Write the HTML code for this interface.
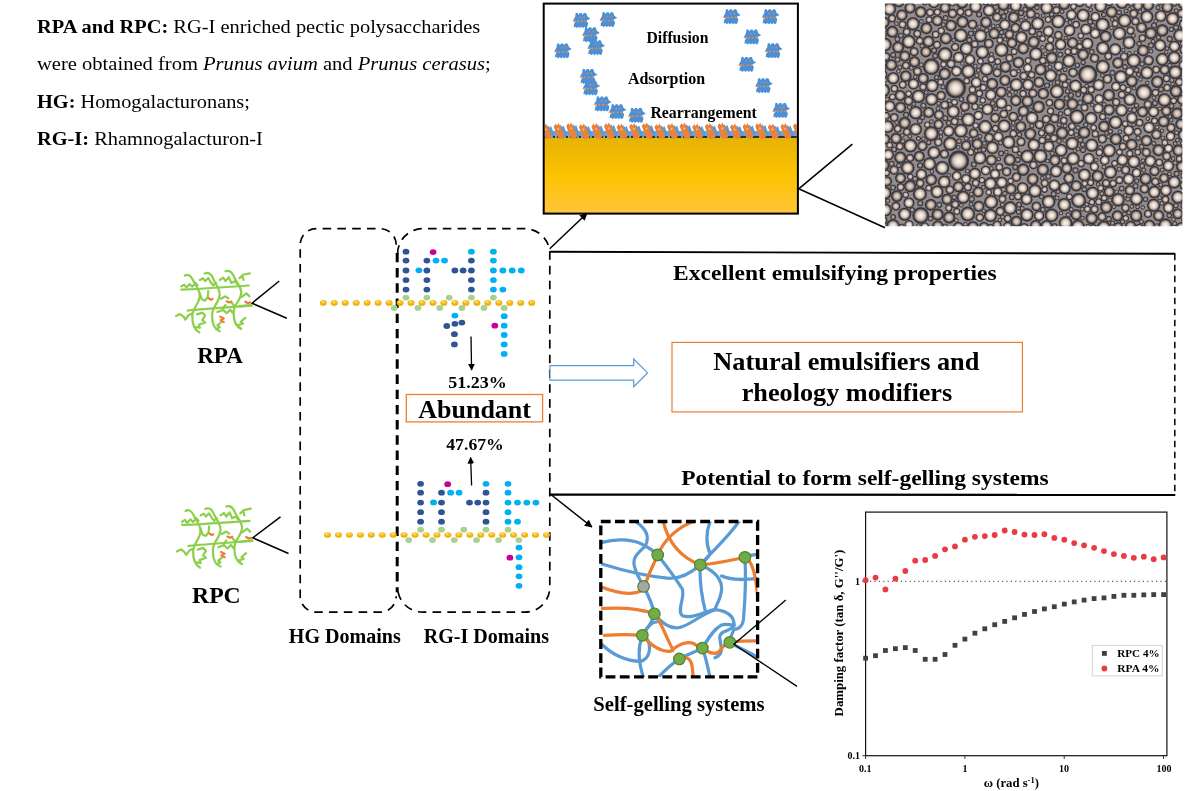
<!DOCTYPE html>
<html><head><meta charset="utf-8"><title>Graphical abstract</title>
<style>html,body{margin:0;padding:0;background:#fff}svg{display:block}</style></head>
<body>
<svg width="1203" height="791" viewBox="0 0 1203 791">
<rect width="1203" height="791" fill="#fff"/>

<defs>
<radialGradient id="bb" cx="0.5" cy="0.5" r="0.5">
<stop offset="0" stop-color="#faf6f1"/><stop offset="0.32" stop-color="#ebdfd4"/><stop offset="0.56" stop-color="#c6b3a5"/><stop offset="0.7" stop-color="#7b6f6c"/><stop offset="0.84" stop-color="#2e2f38"/><stop offset="1" stop-color="#4b4a52"/>
</radialGradient>
<radialGradient id="bs" cx="0.5" cy="0.5" r="0.5">
<stop offset="0" stop-color="#bdada0"/><stop offset="0.3" stop-color="#a8998e"/><stop offset="0.55" stop-color="#726867"/><stop offset="0.78" stop-color="#33333c"/><stop offset="1" stop-color="#54525a"/>
</radialGradient>
<radialGradient id="bm" cx="0.5" cy="0.5" r="0.5">
<stop offset="0" stop-color="#e9ddd1"/><stop offset="0.33" stop-color="#d3c2b4"/><stop offset="0.54" stop-color="#aa988d"/><stop offset="0.68" stop-color="#655c5d"/><stop offset="0.83" stop-color="#2e2f38"/><stop offset="1" stop-color="#4d4c54"/>
</radialGradient>
<linearGradient id="gold" x1="0" y1="0" x2="0" y2="1">
<stop offset="0" stop-color="#e4b304"/><stop offset="0.5" stop-color="#fdc300"/><stop offset="1" stop-color="#ffc53c"/>
</linearGradient>
<radialGradient id="gd" cx="0.5" cy="0.35" r="0.6">
<stop offset="0" stop-color="#ffcf3a"/><stop offset="1" stop-color="#eaa800"/>
</radialGradient>
<marker id="ah" viewBox="0 0 10 10" refX="9" refY="5" markerWidth="5.2" markerHeight="5.2" orient="auto-start-reverse"><path d="M0,0 L10,5 L0,10 z" fill="#000"/></marker>
<g id="mol">
<path d="M-6,-4 L-5.5,-8 L-3.5,-8 L-3,-6 L-1.5,-8 L0.5,-8 L1,-6 L2.5,-8 L4.5,-8 L6,-4 L8.7,-2 L5,0 L6.5,3 L5.5,7 L4,8 L3,6.5 L1.5,8 L0,6.5 L-1.5,8 L-3,6.5 L-4.5,8 L-6,6.5 L-7.5,7 L-7,3 L-5,1 L-8,0 z" fill="#4a90d9"/>
<path d="M-8.9,0.8 L-5.5,-0.4 L-5.5,2 z" fill="#e08a4c"/>
<circle cx="-3.4" cy="0.8" r="1.1" fill="#e08a4c"/><circle cx="0.4" cy="0.8" r="1.1" fill="#e08a4c"/><circle cx="4" cy="0.8" r="1.1" fill="#e08a4c"/>
<circle cx="-1" cy="-3.6" r="1" fill="#b98c74"/><circle cx="2.6" cy="-3.6" r="1" fill="#b98c74"/>
</g>
</defs>

<text x="37.00" y="33.4" textLength="443.20" lengthAdjust="spacingAndGlyphs" style="font-family:'Liberation Serif',serif;font-size:19.2px;" ><tspan font-weight="bold">RPA and RPC:</tspan> RG-I enriched pectic polysaccharides</text>
<text x="37.00" y="70.3" textLength="453.81" lengthAdjust="spacingAndGlyphs" style="font-family:'Liberation Serif',serif;font-size:19.2px;" >were obtained from <tspan font-style="italic">Prunus avium</tspan> and <tspan font-style="italic">Prunus cerasus</tspan>;</text>
<text x="37.00" y="107.7" textLength="212.91" lengthAdjust="spacingAndGlyphs" style="font-family:'Liberation Serif',serif;font-size:19.2px;" ><tspan font-weight="bold">HG:</tspan> Homogalacturonans;</text>
<text x="37.00" y="144.6" textLength="225.91" lengthAdjust="spacingAndGlyphs" style="font-family:'Liberation Serif',serif;font-size:19.2px;" ><tspan font-weight="bold">RG-I:</tspan> Rhamnogalacturon-I</text>
<rect x="543.7" y="137" width="254" height="76.5" fill="url(#gold)"/>
<use href="#mol" transform="translate(581.4,20.599999999999998) scale(1.04,0.94)"/>
<use href="#mol" transform="translate(608.3,19.7) scale(1.04,0.94)"/>
<use href="#mol" transform="translate(590.8,34.800000000000004) scale(1.04,0.94)"/>
<use href="#mol" transform="translate(596,47.7) scale(1.04,0.94)"/>
<use href="#mol" transform="translate(562.8,51.0) scale(1.04,0.94)"/>
<use href="#mol" transform="translate(588.4,76.60000000000001) scale(1.04,0.94)"/>
<use href="#mol" transform="translate(591.2,88.0) scale(1.04,0.94)"/>
<use href="#mol" transform="translate(602.6,104.10000000000001) scale(1.04,0.94)"/>
<use href="#mol" transform="translate(617.4,111.7) scale(1.04,0.94)"/>
<use href="#mol" transform="translate(636.8,115.5) scale(1.04,0.94)"/>
<use href="#mol" transform="translate(731.6,16.8) scale(1.04,0.94)"/>
<use href="#mol" transform="translate(770.5,16.8) scale(1.04,0.94)"/>
<use href="#mol" transform="translate(752.2,37.1) scale(1.04,0.94)"/>
<use href="#mol" transform="translate(773.5,50.800000000000004) scale(1.04,0.94)"/>
<use href="#mol" transform="translate(747.1,64.5) scale(1.04,0.94)"/>
<use href="#mol" transform="translate(763.8,85.7) scale(1.04,0.94)"/>
<use href="#mol" transform="translate(781.1,110.60000000000001) scale(1.04,0.94)"/>
<clipPath id="ic"><rect x="544.7" y="100" width="252.2" height="60"/></clipPath><g clip-path="url(#ic)">
<path d="M544,137.5 L544,131 L797,131 L797,137.5 z" fill="#6fa3d6"/>
<path d="M546.5,128.0 L548.0,125.2 L549.5,127.5 L551.0,126.0 L555.5,137.2 L550.5,137.6 z" fill="#5b9bd5"/>
<path d="M559.1,127.5 L560.6,124.7 L562.1,127.0 L563.6,125.5 L568.1,137.2 L563.1,137.6 z" fill="#5b9bd5"/>
<path d="M571.7,127.0 L573.2,124.2 L574.7,126.5 L576.2,125.0 L580.7,137.2 L575.7,137.6 z" fill="#5b9bd5"/>
<path d="M584.3,128.0 L585.8,125.2 L587.3,127.5 L588.8,126.0 L593.3,137.2 L588.3,137.6 z" fill="#5b9bd5"/>
<path d="M596.9,127.5 L598.4,124.7 L599.9,127.0 L601.4,125.5 L605.9,137.2 L600.9,137.6 z" fill="#5b9bd5"/>
<path d="M609.5,127.0 L611.0,124.2 L612.5,126.5 L614.0,125.0 L618.5,137.2 L613.5,137.6 z" fill="#5b9bd5"/>
<path d="M622.1,128.0 L623.6,125.2 L625.1,127.5 L626.6,126.0 L631.1,137.2 L626.1,137.6 z" fill="#5b9bd5"/>
<path d="M634.7,127.5 L636.2,124.7 L637.7,127.0 L639.2,125.5 L643.7,137.2 L638.7,137.6 z" fill="#5b9bd5"/>
<path d="M647.3,127.0 L648.8,124.2 L650.3,126.5 L651.8,125.0 L656.3,137.2 L651.3,137.6 z" fill="#5b9bd5"/>
<path d="M659.9,128.0 L661.4,125.2 L662.9,127.5 L664.4,126.0 L668.9,137.2 L663.9,137.6 z" fill="#5b9bd5"/>
<path d="M672.5,127.5 L674.0,124.7 L675.5,127.0 L677.0,125.5 L681.5,137.2 L676.5,137.6 z" fill="#5b9bd5"/>
<path d="M685.1,127.0 L686.6,124.2 L688.1,126.5 L689.6,125.0 L694.1,137.2 L689.1,137.6 z" fill="#5b9bd5"/>
<path d="M697.7,128.0 L699.2,125.2 L700.7,127.5 L702.2,126.0 L706.7,137.2 L701.7,137.6 z" fill="#5b9bd5"/>
<path d="M710.3,127.5 L711.8,124.7 L713.3,127.0 L714.8,125.5 L719.3,137.2 L714.3,137.6 z" fill="#5b9bd5"/>
<path d="M722.9,127.0 L724.4,124.2 L725.9,126.5 L727.4,125.0 L731.9,137.2 L726.9,137.6 z" fill="#5b9bd5"/>
<path d="M735.5,128.0 L737.0,125.2 L738.5,127.5 L740.0,126.0 L744.5,137.2 L739.5,137.6 z" fill="#5b9bd5"/>
<path d="M748.1,127.5 L749.6,124.7 L751.1,127.0 L752.6,125.5 L757.1,137.2 L752.1,137.6 z" fill="#5b9bd5"/>
<path d="M760.7,127.0 L762.2,124.2 L763.7,126.5 L765.2,125.0 L769.7,137.2 L764.7,137.6 z" fill="#5b9bd5"/>
<path d="M773.3,128.0 L774.8,125.2 L776.3,127.5 L777.8,126.0 L782.3,137.2 L777.3,137.6 z" fill="#5b9bd5"/>
<path d="M785.9,127.5 L787.4,124.7 L788.9,127.0 L790.4,125.5 L794.9,137.2 L789.9,137.6 z" fill="#5b9bd5"/>
<path d="M798.5,127.0 L800.0,124.2 L801.5,126.5 L803.0,125.0 L807.5,137.2 L802.5,137.6 z" fill="#5b9bd5"/>
<line x1="544" y1="136.9" x2="798" y2="136.9" stroke="#111" stroke-width="1.5" stroke-dasharray="7 2 2 2"/>
<path d="M541.0,127.0 L543.0,124.2 L544.5,126.0 L546.0,123.4 L548.0,127.5 L552.0,136 L550.5,138.6 L546.0,138.8 L543.5,133 z" fill="#e8823c"/>
<circle cx="545.7" cy="129.5" r="0.9" fill="#f3c9a8"/>
<path d="M553.6,126.5 L555.6,123.7 L557.1,125.5 L558.6,122.9 L560.6,127.0 L564.6,136 L563.1,138.6 L558.6,138.8 L556.1,133 z" fill="#e8823c"/>
<circle cx="558.3" cy="129.0" r="0.9" fill="#f3c9a8"/>
<path d="M566.2,126.0 L568.2,123.2 L569.7,125.0 L571.2,122.4 L573.2,126.5 L577.2,136 L575.7,138.6 L571.2,138.8 L568.7,133 z" fill="#e8823c"/>
<circle cx="570.9" cy="128.5" r="0.9" fill="#f3c9a8"/>
<path d="M578.8,127.0 L580.8,124.2 L582.3,126.0 L583.8,123.4 L585.8,127.5 L589.8,136 L588.3,138.6 L583.8,138.8 L581.3,133 z" fill="#e8823c"/>
<circle cx="583.5" cy="129.5" r="0.9" fill="#f3c9a8"/>
<path d="M591.4,126.5 L593.4,123.7 L594.9,125.5 L596.4,122.9 L598.4,127.0 L602.4,136 L600.9,138.6 L596.4,138.8 L593.9,133 z" fill="#e8823c"/>
<circle cx="596.1" cy="129.0" r="0.9" fill="#f3c9a8"/>
<path d="M604.0,126.0 L606.0,123.2 L607.5,125.0 L609.0,122.4 L611.0,126.5 L615.0,136 L613.5,138.6 L609.0,138.8 L606.5,133 z" fill="#e8823c"/>
<circle cx="608.7" cy="128.5" r="0.9" fill="#f3c9a8"/>
<path d="M616.6,127.0 L618.6,124.2 L620.1,126.0 L621.6,123.4 L623.6,127.5 L627.6,136 L626.1,138.6 L621.6,138.8 L619.1,133 z" fill="#e8823c"/>
<circle cx="621.3" cy="129.5" r="0.9" fill="#f3c9a8"/>
<path d="M629.2,126.5 L631.2,123.7 L632.7,125.5 L634.2,122.9 L636.2,127.0 L640.2,136 L638.7,138.6 L634.2,138.8 L631.7,133 z" fill="#e8823c"/>
<circle cx="633.9" cy="129.0" r="0.9" fill="#f3c9a8"/>
<path d="M641.8,126.0 L643.8,123.2 L645.3,125.0 L646.8,122.4 L648.8,126.5 L652.8,136 L651.3,138.6 L646.8,138.8 L644.3,133 z" fill="#e8823c"/>
<circle cx="646.5" cy="128.5" r="0.9" fill="#f3c9a8"/>
<path d="M654.4,127.0 L656.4,124.2 L657.9,126.0 L659.4,123.4 L661.4,127.5 L665.4,136 L663.9,138.6 L659.4,138.8 L656.9,133 z" fill="#e8823c"/>
<circle cx="659.1" cy="129.5" r="0.9" fill="#f3c9a8"/>
<path d="M667.0,126.5 L669.0,123.7 L670.5,125.5 L672.0,122.9 L674.0,127.0 L678.0,136 L676.5,138.6 L672.0,138.8 L669.5,133 z" fill="#e8823c"/>
<circle cx="671.7" cy="129.0" r="0.9" fill="#f3c9a8"/>
<path d="M679.6,126.0 L681.6,123.2 L683.1,125.0 L684.6,122.4 L686.6,126.5 L690.6,136 L689.1,138.6 L684.6,138.8 L682.1,133 z" fill="#e8823c"/>
<circle cx="684.3" cy="128.5" r="0.9" fill="#f3c9a8"/>
<path d="M692.2,127.0 L694.2,124.2 L695.7,126.0 L697.2,123.4 L699.2,127.5 L703.2,136 L701.7,138.6 L697.2,138.8 L694.7,133 z" fill="#e8823c"/>
<circle cx="696.9" cy="129.5" r="0.9" fill="#f3c9a8"/>
<path d="M704.8,126.5 L706.8,123.7 L708.3,125.5 L709.8,122.9 L711.8,127.0 L715.8,136 L714.3,138.6 L709.8,138.8 L707.3,133 z" fill="#e8823c"/>
<circle cx="709.5" cy="129.0" r="0.9" fill="#f3c9a8"/>
<path d="M717.4,126.0 L719.4,123.2 L720.9,125.0 L722.4,122.4 L724.4,126.5 L728.4,136 L726.9,138.6 L722.4,138.8 L719.9,133 z" fill="#e8823c"/>
<circle cx="722.1" cy="128.5" r="0.9" fill="#f3c9a8"/>
<path d="M730.0,127.0 L732.0,124.2 L733.5,126.0 L735.0,123.4 L737.0,127.5 L741.0,136 L739.5,138.6 L735.0,138.8 L732.5,133 z" fill="#e8823c"/>
<circle cx="734.7" cy="129.5" r="0.9" fill="#f3c9a8"/>
<path d="M742.6,126.5 L744.6,123.7 L746.1,125.5 L747.6,122.9 L749.6,127.0 L753.6,136 L752.1,138.6 L747.6,138.8 L745.1,133 z" fill="#e8823c"/>
<circle cx="747.3" cy="129.0" r="0.9" fill="#f3c9a8"/>
<path d="M755.2,126.0 L757.2,123.2 L758.7,125.0 L760.2,122.4 L762.2,126.5 L766.2,136 L764.7,138.6 L760.2,138.8 L757.7,133 z" fill="#e8823c"/>
<circle cx="759.9" cy="128.5" r="0.9" fill="#f3c9a8"/>
<path d="M767.8,127.0 L769.8,124.2 L771.3,126.0 L772.8,123.4 L774.8,127.5 L778.8,136 L777.3,138.6 L772.8,138.8 L770.3,133 z" fill="#e8823c"/>
<circle cx="772.5" cy="129.5" r="0.9" fill="#f3c9a8"/>
<path d="M780.4,126.5 L782.4,123.7 L783.9,125.5 L785.4,122.9 L787.4,127.0 L791.4,136 L789.9,138.6 L785.4,138.8 L782.9,133 z" fill="#e8823c"/>
<circle cx="785.1" cy="129.0" r="0.9" fill="#f3c9a8"/>
<path d="M793.0,126.0 L795.0,123.2 L796.5,125.0 L798.0,122.4 L800.0,126.5 L804.0,136 L802.5,138.6 L798.0,138.8 L795.5,133 z" fill="#e8823c"/>
<circle cx="797.7" cy="128.5" r="0.9" fill="#f3c9a8"/>
</g>
<rect x="543.7" y="3.6" width="254.2" height="210" fill="none" stroke="#000" stroke-width="2"/>
<text x="646.47" y="42.5" textLength="61.94" lengthAdjust="spacingAndGlyphs" style="font-family:'Liberation Serif',serif;font-size:16px;font-weight:bold;" >Diffusion</text>
<text x="627.88" y="83.5" textLength="77.23" lengthAdjust="spacingAndGlyphs" style="font-family:'Liberation Serif',serif;font-size:16px;font-weight:bold;" >Adsorption</text>
<text x="650.39" y="118.4" textLength="106.41" lengthAdjust="spacingAndGlyphs" style="font-family:'Liberation Serif',serif;font-size:16px;font-weight:bold;" >Rearrangement</text>
<path d="M852.4,144.2 L798.7,188.8 L885,227.7" fill="none" stroke="#000" stroke-width="1.5"/>
<line x1="549.7" y1="248.8" x2="587" y2="213.2" stroke="#000" stroke-width="1.5" marker-end="url(#ah)"/>
<clipPath id="mc"><rect x="884.9" y="3.6" width="297.5" height="222.6"/></clipPath>
<filter id="bl" x="0" y="0" width="1" height="1"><feGaussianBlur stdDeviation="0.55"/></filter><g clip-path="url(#mc)"><g filter="url(#bl)"><rect x="884.9" y="3.6" width="297.5" height="222.6" fill="#938e8d"/>
<circle cx="955.6" cy="88.0" r="10.6" fill="url(#bb)"/>
<circle cx="931.3" cy="66.8" r="8.5" fill="url(#bb)"/>
<circle cx="1087.7" cy="74.4" r="9.7" fill="url(#bb)"/>
<circle cx="1143.9" cy="92.6" r="8.5" fill="url(#bb)"/>
<circle cx="958.7" cy="160.9" r="10.6" fill="url(#bb)"/>
<circle cx="931.3" cy="133.6" r="7.6" fill="url(#bb)"/>
<circle cx="1077.0" cy="116.9" r="7.6" fill="url(#bb)"/>
<circle cx="1004.2" cy="126.0" r="6.7" fill="url(#bb)"/>
<circle cx="945.0" cy="54.6" r="7.6" fill="url(#bb)"/>
<circle cx="966.3" cy="48.6" r="6.7" fill="url(#bb)"/>
<circle cx="1146.9" cy="16.7" r="6.7" fill="url(#bb)"/>
<circle cx="1174.2" cy="57.7" r="6.7" fill="url(#bb)"/>
<circle cx="1083.1" cy="54.6" r="6.0" fill="url(#bm)"/>
<circle cx="1069.5" cy="30.4" r="6.0" fill="url(#bb)"/>
<circle cx="1078.6" cy="200.4" r="7.6" fill="url(#bb)"/>
<circle cx="1174.2" cy="182.1" r="6.7" fill="url(#bb)"/>
<circle cx="920.7" cy="215.5" r="8.5" fill="url(#bb)"/>
<circle cx="967.8" cy="214.0" r="7.6" fill="url(#bb)"/>
<circle cx="990.5" cy="215.5" r="6.7" fill="url(#bb)"/>
<circle cx="963.2" cy="197.3" r="6.7" fill="url(#bb)"/>
<circle cx="979.9" cy="157.9" r="6.7" fill="url(#bb)"/>
<circle cx="1054.3" cy="185.2" r="6.0" fill="url(#bb)"/>
<circle cx="1128.7" cy="179.1" r="6.0" fill="url(#bb)"/>
<circle cx="1049.7" cy="129.0" r="6.0" fill="url(#bm)"/>
<circle cx="1163.6" cy="121.4" r="6.0" fill="url(#bm)"/>
<circle cx="1128.7" cy="130.5" r="5.5" fill="url(#bb)"/>
<circle cx="987.5" cy="109.3" r="6.0" fill="url(#bb)"/>
<circle cx="972.3" cy="98.7" r="6.0" fill="url(#bm)"/>
<circle cx="920.7" cy="12.1" r="6.0" fill="url(#bm)"/>
<circle cx="945.0" cy="7.6" r="5.5" fill="url(#bm)"/>
<circle cx="980.5" cy="35.8" r="6.7" fill="url(#bb)"/>
<circle cx="904.7" cy="123.0" r="6.2" fill="url(#bm)"/>
<circle cx="1013.6" cy="17.4" r="5.8" fill="url(#bm)"/>
<circle cx="1010.9" cy="189.0" r="5.8" fill="url(#bm)"/>
<circle cx="950.2" cy="143.8" r="7.2" fill="url(#bb)"/>
<circle cx="1056.9" cy="91.5" r="7.2" fill="url(#bb)"/>
<circle cx="896.9" cy="196.1" r="6.1" fill="url(#bm)"/>
<circle cx="926.4" cy="28.3" r="6.1" fill="url(#bm)"/>
<circle cx="1129.0" cy="42.6" r="6.6" fill="url(#bb)"/>
<circle cx="1075.5" cy="86.0" r="6.5" fill="url(#bb)"/>
<circle cx="901.8" cy="15.1" r="5.9" fill="url(#bm)"/>
<circle cx="1088.0" cy="98.5" r="6.1" fill="url(#bm)"/>
<circle cx="1059.4" cy="104.3" r="6.1" fill="url(#bm)"/>
<circle cx="1122.4" cy="160.0" r="6.0" fill="url(#bb)"/>
<circle cx="1102.8" cy="66.8" r="7.2" fill="url(#bb)"/>
<circle cx="918.5" cy="96.3" r="6.9" fill="url(#bb)"/>
<circle cx="928.7" cy="112.4" r="5.7" fill="url(#bm)"/>
<circle cx="1084.4" cy="174.9" r="6.6" fill="url(#bb)"/>
<circle cx="1146.9" cy="72.7" r="6.8" fill="url(#bb)"/>
<circle cx="1062.1" cy="133.0" r="6.4" fill="url(#bm)"/>
<circle cx="1136.2" cy="215.7" r="6.4" fill="url(#bm)"/>
<circle cx="1083.1" cy="15.3" r="6.8" fill="url(#bb)"/>
<circle cx="1078.0" cy="226.6" r="7.0" fill="url(#bb)"/>
<circle cx="889.7" cy="106.2" r="5.9" fill="url(#bb)"/>
<circle cx="1048.6" cy="201.8" r="7.0" fill="url(#bb)"/>
<circle cx="991.1" cy="202.0" r="7.2" fill="url(#bb)"/>
<circle cx="928.4" cy="41.5" r="6.0" fill="url(#bm)"/>
<circle cx="953.3" cy="111.5" r="6.6" fill="url(#bb)"/>
<circle cx="962.1" cy="2.5" r="6.3" fill="url(#bm)"/>
<circle cx="1091.1" cy="118.4" r="6.6" fill="url(#bb)"/>
<circle cx="1118.1" cy="199.8" r="6.9" fill="url(#bb)"/>
<circle cx="1001.2" cy="92.0" r="5.8" fill="url(#bm)"/>
<circle cx="945.8" cy="38.4" r="6.2" fill="url(#bm)"/>
<circle cx="898.8" cy="1.7" r="5.9" fill="url(#bm)"/>
<circle cx="913.5" cy="84.0" r="5.7" fill="url(#bb)"/>
<circle cx="1146.5" cy="140.7" r="5.9" fill="url(#bm)"/>
<circle cx="919.9" cy="194.0" r="7.2" fill="url(#bb)"/>
<circle cx="1023.4" cy="111.2" r="5.8" fill="url(#bm)"/>
<circle cx="1046.7" cy="7.7" r="6.5" fill="url(#bb)"/>
<circle cx="1177.9" cy="197.2" r="6.8" fill="url(#bb)"/>
<circle cx="1115.6" cy="122.3" r="6.9" fill="url(#bb)"/>
<circle cx="982.3" cy="52.1" r="6.9" fill="url(#bb)"/>
<circle cx="1039.0" cy="82.2" r="5.7" fill="url(#bm)"/>
<circle cx="891.3" cy="64.9" r="6.0" fill="url(#bm)"/>
<circle cx="1091.7" cy="218.3" r="6.3" fill="url(#bm)"/>
<circle cx="1165.4" cy="225.5" r="7.2" fill="url(#bb)"/>
<circle cx="1154.3" cy="192.0" r="6.4" fill="url(#bb)"/>
<circle cx="1109.1" cy="109.9" r="5.9" fill="url(#bm)"/>
<circle cx="1120.8" cy="76.9" r="6.9" fill="url(#bb)"/>
<circle cx="1175.9" cy="91.3" r="6.3" fill="url(#bm)"/>
<circle cx="1168.4" cy="165.8" r="5.9" fill="url(#bb)"/>
<circle cx="1178.5" cy="150.5" r="6.2" fill="url(#bm)"/>
<circle cx="1048.3" cy="31.3" r="5.6" fill="url(#bb)"/>
<circle cx="1164.4" cy="99.9" r="7.0" fill="url(#bb)"/>
<circle cx="1157.3" cy="81.8" r="6.4" fill="url(#bm)"/>
<circle cx="1050.7" cy="75.5" r="6.5" fill="url(#bb)"/>
<circle cx="1051.8" cy="57.9" r="6.1" fill="url(#bm)"/>
<circle cx="1027.0" cy="214.9" r="6.8" fill="url(#bb)"/>
<circle cx="1051.6" cy="215.3" r="7.0" fill="url(#bb)"/>
<circle cx="904.8" cy="56.1" r="5.7" fill="url(#bm)"/>
<circle cx="929.5" cy="163.9" r="6.7" fill="url(#bb)"/>
<circle cx="949.1" cy="217.4" r="6.3" fill="url(#bm)"/>
<circle cx="931.6" cy="99.4" r="6.5" fill="url(#bb)"/>
<circle cx="1100.6" cy="6.0" r="6.5" fill="url(#bb)"/>
<circle cx="1015.7" cy="5.7" r="6.2" fill="url(#bb)"/>
<circle cx="914.5" cy="61.8" r="5.7" fill="url(#bm)"/>
<circle cx="1117.8" cy="62.9" r="5.8" fill="url(#bm)"/>
<circle cx="1010.2" cy="208.1" r="7.0" fill="url(#bb)"/>
<circle cx="960.9" cy="35.4" r="7.1" fill="url(#bb)"/>
<circle cx="1054.9" cy="160.3" r="5.8" fill="url(#bm)"/>
<circle cx="900.2" cy="157.5" r="6.3" fill="url(#bm)"/>
<circle cx="904.7" cy="214.2" r="6.7" fill="url(#bb)"/>
<circle cx="1124.6" cy="20.6" r="7.0" fill="url(#bb)"/>
<circle cx="985.2" cy="126.9" r="7.1" fill="url(#bb)"/>
<circle cx="898.1" cy="47.3" r="6.1" fill="url(#bm)"/>
<circle cx="974.9" cy="173.7" r="6.1" fill="url(#bb)"/>
<circle cx="1033.7" cy="41.9" r="6.2" fill="url(#bm)"/>
<circle cx="1103.9" cy="126.5" r="5.9" fill="url(#bm)"/>
<circle cx="1129.8" cy="99.5" r="6.4" fill="url(#bb)"/>
<circle cx="1133.8" cy="161.7" r="6.7" fill="url(#bb)"/>
<circle cx="1004.9" cy="80.4" r="5.7" fill="url(#bm)"/>
<circle cx="1136.5" cy="198.9" r="6.7" fill="url(#bb)"/>
<circle cx="1021.4" cy="37.3" r="6.3" fill="url(#bb)"/>
<circle cx="976.2" cy="82.4" r="5.6" fill="url(#bb)"/>
<circle cx="962.5" cy="21.9" r="6.3" fill="url(#bm)"/>
<circle cx="1109.2" cy="150.6" r="6.8" fill="url(#bb)"/>
<circle cx="1179.8" cy="35.5" r="6.8" fill="url(#bb)"/>
<circle cx="1035.0" cy="190.8" r="6.9" fill="url(#bb)"/>
<circle cx="1088.8" cy="158.7" r="6.0" fill="url(#bb)"/>
<circle cx="892.3" cy="31.8" r="6.2" fill="url(#bm)"/>
<circle cx="1072.2" cy="143.5" r="6.7" fill="url(#bb)"/>
<circle cx="1030.4" cy="2.4" r="6.9" fill="url(#bb)"/>
<circle cx="1102.8" cy="48.1" r="6.8" fill="url(#bb)"/>
<circle cx="1177.1" cy="113.5" r="6.2" fill="url(#bm)"/>
<circle cx="1027.3" cy="156.5" r="6.9" fill="url(#bb)"/>
<circle cx="1038.6" cy="106.9" r="6.4" fill="url(#bm)"/>
<circle cx="1177.8" cy="213.8" r="5.6" fill="url(#bm)"/>
<circle cx="1018.4" cy="62.5" r="6.0" fill="url(#bm)"/>
<circle cx="1150.3" cy="161.0" r="6.0" fill="url(#bb)"/>
<circle cx="1153.6" cy="111.8" r="5.7" fill="url(#bb)"/>
<circle cx="978.2" cy="192.0" r="5.6" fill="url(#bm)"/>
<circle cx="1109.2" cy="191.7" r="5.8" fill="url(#bm)"/>
<circle cx="1184.0" cy="135.1" r="6.2" fill="url(#bb)"/>
<circle cx="1162.3" cy="30.4" r="6.4" fill="url(#bm)"/>
<circle cx="986.5" cy="69.1" r="6.8" fill="url(#bb)"/>
<circle cx="986.0" cy="22.2" r="6.0" fill="url(#bm)"/>
<circle cx="960.8" cy="130.7" r="7.1" fill="url(#bb)"/>
<circle cx="1108.9" cy="95.1" r="6.3" fill="url(#bm)"/>
<circle cx="1143.1" cy="50.5" r="6.1" fill="url(#bm)"/>
<circle cx="889.5" cy="8.9" r="6.8" fill="url(#bb)"/>
<circle cx="883.0" cy="90.3" r="7.1" fill="url(#bb)"/>
<circle cx="1040.4" cy="156.2" r="7.2" fill="url(#bb)"/>
<circle cx="1020.8" cy="126.6" r="5.7" fill="url(#bm)"/>
<circle cx="1064.1" cy="4.0" r="6.1" fill="url(#bm)"/>
<circle cx="975.6" cy="6.5" r="6.4" fill="url(#bb)"/>
<circle cx="893.2" cy="78.2" r="6.3" fill="url(#bb)"/>
<circle cx="1175.3" cy="72.2" r="7.0" fill="url(#bb)"/>
<circle cx="1001.5" cy="49.9" r="7.2" fill="url(#bb)"/>
<circle cx="1103.8" cy="227.6" r="7.1" fill="url(#bb)"/>
<circle cx="933.9" cy="2.3" r="6.1" fill="url(#bb)"/>
<circle cx="1160.1" cy="45.3" r="6.2" fill="url(#bb)"/>
<circle cx="1068.9" cy="61.0" r="6.8" fill="url(#bb)"/>
<circle cx="1167.3" cy="7.1" r="6.0" fill="url(#bm)"/>
<circle cx="1115.9" cy="139.2" r="6.2" fill="url(#bm)"/>
<circle cx="1149.3" cy="225.4" r="6.0" fill="url(#bm)"/>
<circle cx="1008.6" cy="142.2" r="6.7" fill="url(#bb)"/>
<circle cx="1035.9" cy="54.0" r="6.9" fill="url(#bb)"/>
<circle cx="1117.4" cy="215.9" r="5.8" fill="url(#bm)"/>
<circle cx="994.1" cy="33.6" r="5.9" fill="url(#bm)"/>
<circle cx="1087.4" cy="43.6" r="6.1" fill="url(#bb)"/>
<circle cx="944.2" cy="181.8" r="6.5" fill="url(#bb)"/>
<circle cx="1048.8" cy="146.4" r="5.8" fill="url(#bb)"/>
<circle cx="968.3" cy="71.3" r="7.2" fill="url(#bb)"/>
<circle cx="887.4" cy="126.6" r="6.7" fill="url(#bb)"/>
<circle cx="968.3" cy="119.7" r="7.1" fill="url(#bb)"/>
<circle cx="915.7" cy="112.7" r="6.9" fill="url(#bb)"/>
<circle cx="1174.4" cy="46.3" r="5.8" fill="url(#bb)"/>
<circle cx="931.2" cy="179.7" r="6.0" fill="url(#bm)"/>
<circle cx="1025.6" cy="25.9" r="5.8" fill="url(#bb)"/>
<circle cx="907.7" cy="167.8" r="6.9" fill="url(#bb)"/>
<circle cx="930.8" cy="204.8" r="6.1" fill="url(#bm)"/>
<circle cx="1001.8" cy="182.4" r="6.0" fill="url(#bb)"/>
<circle cx="1145.6" cy="178.8" r="6.3" fill="url(#bm)"/>
<circle cx="1043.2" cy="93.6" r="6.0" fill="url(#bm)"/>
<circle cx="900.5" cy="178.1" r="5.6" fill="url(#bm)"/>
<circle cx="1076.3" cy="185.9" r="5.9" fill="url(#bm)"/>
<circle cx="884.8" cy="192.9" r="6.8" fill="url(#bb)"/>
<circle cx="1023.2" cy="169.7" r="6.4" fill="url(#bm)"/>
<circle cx="951.0" cy="25.5" r="6.0" fill="url(#bm)"/>
<circle cx="1092.5" cy="193.2" r="6.8" fill="url(#bb)"/>
<circle cx="1148.2" cy="5.1" r="6.0" fill="url(#bm)"/>
<circle cx="1073.1" cy="158.6" r="6.7" fill="url(#bb)"/>
<circle cx="1091.7" cy="145.2" r="6.8" fill="url(#bb)"/>
<circle cx="1158.6" cy="215.6" r="5.8" fill="url(#bm)"/>
<circle cx="1131.7" cy="144.7" r="6.1" fill="url(#bm)"/>
<circle cx="913.0" cy="23.8" r="6.9" fill="url(#bb)"/>
<circle cx="944.7" cy="73.9" r="6.3" fill="url(#bm)"/>
<circle cx="1098.7" cy="85.0" r="6.1" fill="url(#bb)"/>
<circle cx="1133.7" cy="60.6" r="7.2" fill="url(#bb)"/>
<circle cx="908.9" cy="202.9" r="5.7" fill="url(#bb)"/>
<circle cx="1110.4" cy="172.2" r="6.7" fill="url(#bb)"/>
<circle cx="1102.6" cy="24.7" r="7.2" fill="url(#bb)"/>
<circle cx="1033.8" cy="144.9" r="6.4" fill="url(#bb)"/>
<circle cx="1106.3" cy="207.4" r="6.3" fill="url(#bm)"/>
<circle cx="1056.0" cy="171.3" r="6.3" fill="url(#bb)"/>
<circle cx="977.3" cy="144.0" r="5.8" fill="url(#bm)"/>
<circle cx="1003.4" cy="4.6" r="6.3" fill="url(#bm)"/>
<circle cx="1009.7" cy="159.8" r="6.2" fill="url(#bm)"/>
<circle cx="883.7" cy="165.2" r="6.1" fill="url(#bm)"/>
<circle cx="1119.3" cy="33.4" r="7.0" fill="url(#bb)"/>
<circle cx="1042.9" cy="169.7" r="6.3" fill="url(#bm)"/>
<circle cx="1149.0" cy="127.4" r="6.0" fill="url(#bb)"/>
<circle cx="900.5" cy="107.4" r="5.8" fill="url(#bm)"/>
<circle cx="1172.5" cy="18.7" r="6.7" fill="url(#bb)"/>
<circle cx="1115.2" cy="49.4" r="6.3" fill="url(#bb)"/>
<circle cx="884.8" cy="44.6" r="7.1" fill="url(#bb)"/>
<circle cx="1158.5" cy="150.2" r="6.2" fill="url(#bm)"/>
<circle cx="1142.5" cy="111.8" r="5.7" fill="url(#bm)"/>
<circle cx="992.4" cy="147.7" r="6.6" fill="url(#bb)"/>
<circle cx="1065.6" cy="223.1" r="7.0" fill="url(#bb)"/>
<circle cx="1064.3" cy="204.7" r="6.9" fill="url(#bb)"/>
<circle cx="1023.2" cy="48.4" r="6.0" fill="url(#bm)"/>
<circle cx="1060.6" cy="44.5" r="5.9" fill="url(#bb)"/>
<circle cx="893.0" cy="226.0" r="7.0" fill="url(#bb)"/>
<circle cx="937.4" cy="20.6" r="5.7" fill="url(#bm)"/>
<circle cx="1168.5" cy="207.8" r="5.7" fill="url(#bb)"/>
<circle cx="1001.4" cy="103.2" r="5.9" fill="url(#bb)"/>
<circle cx="1150.8" cy="33.3" r="6.3" fill="url(#bm)"/>
<circle cx="1072.4" cy="104.1" r="6.2" fill="url(#bm)"/>
<circle cx="925.9" cy="51.8" r="5.7" fill="url(#bm)"/>
<circle cx="978.8" cy="206.3" r="5.8" fill="url(#bm)"/>
<circle cx="948.7" cy="131.1" r="5.8" fill="url(#bb)"/>
<circle cx="1026.6" cy="199.2" r="6.0" fill="url(#bb)"/>
<circle cx="932.2" cy="85.7" r="6.6" fill="url(#bb)"/>
<circle cx="1032.1" cy="117.9" r="6.5" fill="url(#bb)"/>
<circle cx="958.4" cy="186.8" r="5.7" fill="url(#bm)"/>
<circle cx="1005.5" cy="66.9" r="6.0" fill="url(#bm)"/>
<circle cx="1105.6" cy="36.6" r="6.2" fill="url(#bm)"/>
<circle cx="1058.2" cy="21.5" r="7.1" fill="url(#bb)"/>
<circle cx="1131.9" cy="117.8" r="5.8" fill="url(#bb)"/>
<circle cx="1131.9" cy="81.2" r="6.0" fill="url(#bm)"/>
<circle cx="947.0" cy="199.3" r="5.8" fill="url(#bm)"/>
<circle cx="908.8" cy="41.7" r="7.0" fill="url(#bb)"/>
<circle cx="1072.5" cy="42.8" r="5.8" fill="url(#bm)"/>
<circle cx="937.1" cy="191.8" r="6.6" fill="url(#bb)"/>
<circle cx="921.4" cy="174.3" r="5.7" fill="url(#bb)"/>
<circle cx="990.8" cy="94.9" r="5.9" fill="url(#bb)"/>
<circle cx="933.9" cy="152.6" r="6.6" fill="url(#bb)"/>
<circle cx="885.4" cy="210.0" r="6.7" fill="url(#bb)"/>
<circle cx="958.7" cy="57.3" r="5.8" fill="url(#bb)"/>
<circle cx="1016.5" cy="221.4" r="5.8" fill="url(#bm)"/>
<circle cx="896.0" cy="138.4" r="5.8" fill="url(#bm)"/>
<circle cx="905.8" cy="76.2" r="6.0" fill="url(#bm)"/>
<circle cx="1028.1" cy="84.8" r="6.0" fill="url(#bb)"/>
<circle cx="942.2" cy="167.9" r="7.2" fill="url(#bb)"/>
<circle cx="900.2" cy="95.5" r="5.7" fill="url(#bm)"/>
<circle cx="910.0" cy="186.1" r="6.3" fill="url(#bm)"/>
<circle cx="910.0" cy="7.9" r="5.8" fill="url(#bm)"/>
<circle cx="937.7" cy="214.5" r="6.2" fill="url(#bm)"/>
<circle cx="972.9" cy="226.9" r="6.0" fill="url(#bm)"/>
<circle cx="1183.9" cy="2.8" r="6.6" fill="url(#bb)"/>
<circle cx="1162.2" cy="59.3" r="6.6" fill="url(#bb)"/>
<circle cx="990.4" cy="183.6" r="6.5" fill="url(#bb)"/>
<circle cx="910.4" cy="145.7" r="7.0" fill="url(#bb)"/>
<circle cx="1016.3" cy="84.8" r="6.8" fill="url(#bb)"/>
<circle cx="1030.3" cy="133.9" r="6.2" fill="url(#bm)"/>
<circle cx="1037.7" cy="23.6" r="6.7" fill="url(#bb)"/>
<circle cx="1121.6" cy="110.3" r="6.4" fill="url(#bb)"/>
<circle cx="1122.0" cy="2.6" r="6.4" fill="url(#bb)"/>
<circle cx="919.3" cy="156.4" r="5.7" fill="url(#bm)"/>
<circle cx="1035.7" cy="225.6" r="5.9" fill="url(#bm)"/>
<circle cx="923.2" cy="78.4" r="5.7" fill="url(#bm)"/>
<circle cx="1084.2" cy="132.5" r="6.3" fill="url(#bm)"/>
<circle cx="1153.7" cy="205.3" r="6.8" fill="url(#bb)"/>
<circle cx="1064.8" cy="188.4" r="6.1" fill="url(#bb)"/>
<circle cx="991.4" cy="160.1" r="5.7" fill="url(#bm)"/>
<circle cx="915.7" cy="129.3" r="6.4" fill="url(#bb)"/>
<circle cx="1061.1" cy="150.3" r="6.6" fill="url(#bb)"/>
<circle cx="888.2" cy="154.8" r="5.9" fill="url(#bb)"/>
<circle cx="1097.7" cy="176.2" r="6.2" fill="url(#bm)"/>
<circle cx="1107.4" cy="79.0" r="5.0" fill="url(#bm)"/>
<circle cx="1181.6" cy="166.6" r="5.8" fill="url(#bm)"/>
<circle cx="997.7" cy="191.9" r="4.9" fill="url(#bb)"/>
<circle cx="992.2" cy="83.9" r="6.1" fill="url(#bm)"/>
<circle cx="1099.2" cy="98.9" r="4.9" fill="url(#bb)"/>
<circle cx="1182.1" cy="99.8" r="5.3" fill="url(#bm)"/>
<circle cx="1027.5" cy="101.3" r="6.1" fill="url(#bm)"/>
<circle cx="1130.5" cy="226.1" r="5.7" fill="url(#bm)"/>
<circle cx="1156.4" cy="134.5" r="5.4" fill="url(#bm)"/>
<circle cx="1180.9" cy="124.2" r="5.8" fill="url(#bm)"/>
<circle cx="922.4" cy="145.9" r="5.3" fill="url(#bm)"/>
<circle cx="939.0" cy="114.9" r="5.2" fill="url(#bm)"/>
<circle cx="1022.6" cy="188.1" r="6.1" fill="url(#bb)"/>
<circle cx="1071.4" cy="14.8" r="5.5" fill="url(#bb)"/>
<circle cx="1046.6" cy="226.1" r="6.0" fill="url(#bb)"/>
<circle cx="884.0" cy="22.3" r="5.8" fill="url(#bm)"/>
<circle cx="1115.9" cy="86.5" r="4.9" fill="url(#bb)"/>
<circle cx="995.0" cy="174.1" r="5.2" fill="url(#bb)"/>
<circle cx="1013.3" cy="116.7" r="5.2" fill="url(#bm)"/>
<circle cx="1068.8" cy="178.3" r="5.6" fill="url(#bm)"/>
<circle cx="966.1" cy="145.6" r="5.4" fill="url(#bm)"/>
<circle cx="1118.2" cy="227.2" r="5.1" fill="url(#bm)"/>
<circle cx="1015.8" cy="100.6" r="5.8" fill="url(#bm)"/>
<circle cx="1063.0" cy="77.9" r="4.9" fill="url(#bm)"/>
<circle cx="1040.5" cy="69.6" r="6.1" fill="url(#bm)"/>
<circle cx="1054.6" cy="118.4" r="5.0" fill="url(#bm)"/>
<circle cx="1165.9" cy="190.4" r="6.0" fill="url(#bb)"/>
<circle cx="1004.8" cy="24.8" r="5.8" fill="url(#bb)"/>
<circle cx="1111.6" cy="12.0" r="6.0" fill="url(#bm)"/>
<circle cx="1144.4" cy="188.8" r="4.9" fill="url(#bm)"/>
<circle cx="1085.9" cy="29.2" r="5.8" fill="url(#bb)"/>
<circle cx="997.0" cy="225.1" r="4.8" fill="url(#bm)"/>
<circle cx="1006.7" cy="171.7" r="4.8" fill="url(#bm)"/>
<circle cx="1102.3" cy="138.9" r="4.8" fill="url(#bm)"/>
<circle cx="1141.6" cy="27.5" r="5.6" fill="url(#bm)"/>
<circle cx="966.0" cy="178.9" r="5.0" fill="url(#bb)"/>
<circle cx="972.5" cy="24.4" r="5.0" fill="url(#bm)"/>
<circle cx="909.1" cy="224.8" r="4.8" fill="url(#bb)"/>
<circle cx="1154.5" cy="171.0" r="5.3" fill="url(#bm)"/>
<circle cx="1098.3" cy="108.4" r="5.4" fill="url(#bb)"/>
<circle cx="1104.7" cy="160.3" r="5.0" fill="url(#bb)"/>
<circle cx="1073.0" cy="72.5" r="5.1" fill="url(#bm)"/>
<circle cx="996.9" cy="17.2" r="4.8" fill="url(#bm)"/>
<circle cx="1129.8" cy="190.3" r="5.3" fill="url(#bm)"/>
<circle cx="1181.3" cy="228.0" r="5.9" fill="url(#bb)"/>
<circle cx="1170.5" cy="136.3" r="4.8" fill="url(#bb)"/>
<circle cx="884.7" cy="139.1" r="5.6" fill="url(#bm)"/>
<circle cx="969.9" cy="59.6" r="5.5" fill="url(#bb)"/>
<circle cx="988.9" cy="10.5" r="6.2" fill="url(#bb)"/>
<circle cx="995.1" cy="117.8" r="5.1" fill="url(#bm)"/>
<circle cx="1049.5" cy="47.0" r="4.8" fill="url(#bm)"/>
<circle cx="937.8" cy="226.0" r="5.8" fill="url(#bm)"/>
<circle cx="984.0" cy="226.9" r="5.2" fill="url(#bm)"/>
<circle cx="1160.7" cy="16.0" r="6.1" fill="url(#bb)"/>
<circle cx="1076.2" cy="214.8" r="5.7" fill="url(#bm)"/>
<circle cx="1183.3" cy="65.1" r="4.8" fill="url(#bb)"/>
<circle cx="938.6" cy="124.4" r="5.2" fill="url(#bm)"/>
<circle cx="1012.0" cy="43.0" r="5.4" fill="url(#bm)"/>
<circle cx="1095.3" cy="16.7" r="4.9" fill="url(#bb)"/>
<circle cx="956.5" cy="71.2" r="5.5" fill="url(#bb)"/>
<circle cx="952.5" cy="13.5" r="4.9" fill="url(#bm)"/>
<circle cx="1039.1" cy="215.7" r="5.3" fill="url(#bb)"/>
<circle cx="988.8" cy="43.6" r="5.1" fill="url(#bm)"/>
<circle cx="1066.8" cy="168.3" r="5.7" fill="url(#bm)"/>
<circle cx="1146.3" cy="152.3" r="4.8" fill="url(#bm)"/>
<circle cx="1164.0" cy="178.1" r="5.0" fill="url(#bm)"/>
<circle cx="1095.1" cy="33.5" r="5.4" fill="url(#bb)"/>
<circle cx="1136.5" cy="172.8" r="4.9" fill="url(#bb)"/>
<circle cx="941.1" cy="95.7" r="5.0" fill="url(#bm)"/>
<circle cx="989.1" cy="137.8" r="5.1" fill="url(#bm)"/>
<circle cx="1138.0" cy="5.7" r="5.1" fill="url(#bm)"/>
<circle cx="956.7" cy="176.0" r="5.0" fill="url(#bb)"/>
<circle cx="964.9" cy="106.6" r="5.1" fill="url(#bm)"/>
<circle cx="1184.3" cy="24.2" r="5.6" fill="url(#bb)"/>
<circle cx="985.6" cy="170.5" r="5.0" fill="url(#bb)"/>
<circle cx="1036.4" cy="206.4" r="5.0" fill="url(#bm)"/>
<circle cx="1166.3" cy="111.0" r="5.2" fill="url(#bm)"/>
<circle cx="1015.4" cy="27.9" r="5.1" fill="url(#bm)"/>
<circle cx="958.4" cy="227.6" r="5.8" fill="url(#bb)"/>
<circle cx="998.4" cy="136.7" r="5.3" fill="url(#bb)"/>
<circle cx="1030.8" cy="13.8" r="5.0" fill="url(#bm)"/>
<circle cx="1164.6" cy="69.7" r="5.2" fill="url(#bm)"/>
<circle cx="1079.7" cy="1.9" r="5.5" fill="url(#bm)"/>
<circle cx="973.7" cy="133.3" r="5.0" fill="url(#bm)"/>
<circle cx="1148.6" cy="60.4" r="5.4" fill="url(#bm)"/>
<circle cx="908.6" cy="100.8" r="4.9" fill="url(#bm)"/>
<circle cx="1032.7" cy="179.1" r="6.1" fill="url(#bm)"/>
<circle cx="1125.6" cy="170.0" r="4.8" fill="url(#bm)"/>
<circle cx="886.9" cy="181.3" r="5.3" fill="url(#bm)"/>
<circle cx="1171.0" cy="127.7" r="4.8" fill="url(#bm)"/>
<circle cx="1000.2" cy="211.4" r="4.8" fill="url(#bm)"/>
<circle cx="894.1" cy="170.1" r="4.9" fill="url(#bm)"/>
<circle cx="978.4" cy="115.5" r="4.9" fill="url(#bb)"/>
<circle cx="1058.6" cy="66.1" r="5.0" fill="url(#bb)"/>
<circle cx="1042.2" cy="140.4" r="4.0" fill="url(#bm)"/>
<circle cx="951.0" cy="63.9" r="4.7" fill="url(#bm)"/>
<circle cx="1156.2" cy="69.6" r="4.1" fill="url(#bm)"/>
<circle cx="1147.8" cy="104.4" r="4.4" fill="url(#bm)"/>
<circle cx="1049.4" cy="102.8" r="4.0" fill="url(#bm)"/>
<circle cx="910.1" cy="157.9" r="4.1" fill="url(#bm)"/>
<circle cx="1023.7" cy="75.9" r="4.5" fill="url(#bm)"/>
<circle cx="1016.4" cy="177.1" r="4.9" fill="url(#bm)"/>
<circle cx="905.9" cy="65.5" r="4.1" fill="url(#bm)"/>
<circle cx="1137.6" cy="131.8" r="4.2" fill="url(#bm)"/>
<circle cx="991.3" cy="59.4" r="3.9" fill="url(#bm)"/>
<circle cx="1094.5" cy="209.2" r="4.3" fill="url(#bm)"/>
<circle cx="1168.5" cy="148.4" r="4.7" fill="url(#bb)"/>
<circle cx="1015.5" cy="149.5" r="4.0" fill="url(#bm)"/>
<circle cx="999.3" cy="167.1" r="4.1" fill="url(#bm)"/>
<circle cx="944.7" cy="105.0" r="4.6" fill="url(#bm)"/>
<circle cx="1184.2" cy="49.8" r="5.0" fill="url(#bm)"/>
<circle cx="1181.6" cy="13.5" r="4.8" fill="url(#bm)"/>
<circle cx="883.5" cy="74.5" r="4.1" fill="url(#bm)"/>
<circle cx="967.9" cy="187.1" r="4.3" fill="url(#bm)"/>
<circle cx="1002.4" cy="199.1" r="4.1" fill="url(#bm)"/>
<circle cx="1031.6" cy="74.9" r="3.9" fill="url(#bm)"/>
<circle cx="1125.4" cy="207.8" r="4.4" fill="url(#bm)"/>
<circle cx="917.4" cy="71.4" r="4.6" fill="url(#bm)"/>
<circle cx="1044.7" cy="183.1" r="4.2" fill="url(#bm)"/>
<circle cx="954.6" cy="121.5" r="4.1" fill="url(#bm)"/>
<circle cx="919.7" cy="40.8" r="4.0" fill="url(#bm)"/>
<circle cx="1033.4" cy="165.0" r="4.4" fill="url(#bm)"/>
<circle cx="894.2" cy="117.5" r="4.5" fill="url(#bm)"/>
<circle cx="1071.9" cy="126.3" r="4.0" fill="url(#bm)"/>
<circle cx="1109.4" cy="2.2" r="4.1" fill="url(#bm)"/>
<circle cx="949.9" cy="189.8" r="4.6" fill="url(#bm)"/>
<circle cx="906.7" cy="31.8" r="4.1" fill="url(#bm)"/>
<circle cx="1003.8" cy="114.0" r="4.6" fill="url(#bm)"/>
<circle cx="1021.0" cy="141.8" r="4.8" fill="url(#bm)"/>
<circle cx="1179.2" cy="82.0" r="4.4" fill="url(#bm)"/>
<circle cx="900.6" cy="187.1" r="4.1" fill="url(#bm)"/>
<circle cx="902.7" cy="84.7" r="4.2" fill="url(#bm)"/>
<circle cx="1063.8" cy="120.5" r="3.9" fill="url(#bm)"/>
<circle cx="1032.9" cy="93.3" r="4.7" fill="url(#bm)"/>
<circle cx="1067.6" cy="112.0" r="4.3" fill="url(#bm)"/>
<circle cx="1106.1" cy="183.1" r="4.3" fill="url(#bm)"/>
<circle cx="1142.3" cy="38.1" r="3.9" fill="url(#bm)"/>
<circle cx="1058.4" cy="35.2" r="4.5" fill="url(#bm)"/>
<circle cx="1133.7" cy="13.6" r="4.6" fill="url(#bm)"/>
<circle cx="1094.6" cy="58.2" r="4.8" fill="url(#bm)"/>
<circle cx="883.3" cy="220.4" r="4.4" fill="url(#bm)"/>
<circle cx="960.4" cy="11.9" r="4.1" fill="url(#bm)"/>
<circle cx="895.9" cy="206.2" r="4.6" fill="url(#bm)"/>
<circle cx="1084.5" cy="107.6" r="4.1" fill="url(#bm)"/>
<circle cx="1121.8" cy="94.7" r="4.2" fill="url(#bm)"/>
<circle cx="1099.4" cy="152.5" r="4.0" fill="url(#bm)"/>
<circle cx="1009.4" cy="58.0" r="4.2" fill="url(#bm)"/>
<circle cx="1139.4" cy="227.9" r="4.5" fill="url(#bm)"/>
<circle cx="897.7" cy="128.7" r="4.0" fill="url(#bm)"/>
<circle cx="975.7" cy="183.0" r="4.1" fill="url(#bm)"/>
<circle cx="1102.0" cy="216.8" r="4.7" fill="url(#bm)"/>
<circle cx="885.9" cy="56.6" r="4.6" fill="url(#bm)"/>
<circle cx="902.5" cy="24.5" r="4.1" fill="url(#bm)"/>
<circle cx="1027.7" cy="68.0" r="4.7" fill="url(#bb)"/>
<circle cx="997.1" cy="72.7" r="4.7" fill="url(#bm)"/>
<circle cx="1009.4" cy="34.4" r="4.8" fill="url(#bm)"/>
<circle cx="955.2" cy="204.4" r="4.3" fill="url(#bm)"/>
<circle cx="937.0" cy="44.8" r="4.2" fill="url(#bm)"/>
<circle cx="1122.8" cy="146.5" r="4.2" fill="url(#bm)"/>
<circle cx="1032.2" cy="31.4" r="4.0" fill="url(#bm)"/>
<circle cx="1108.3" cy="56.2" r="4.2" fill="url(#bm)"/>
<circle cx="1081.1" cy="163.5" r="3.9" fill="url(#bm)"/>
<circle cx="1056.4" cy="10.2" r="4.2" fill="url(#bm)"/>
<circle cx="917.3" cy="33.7" r="4.1" fill="url(#bm)"/>
<circle cx="924.9" cy="226.9" r="4.5" fill="url(#bb)"/>
<circle cx="1116.2" cy="102.1" r="4.4" fill="url(#bm)"/>
<circle cx="1129.6" cy="71.5" r="4.5" fill="url(#bb)"/>
<circle cx="1155.3" cy="181.7" r="4.4" fill="url(#bm)"/>
<circle cx="1013.7" cy="73.1" r="4.2" fill="url(#bm)"/>
<circle cx="906.9" cy="131.9" r="4.0" fill="url(#bm)"/>
<circle cx="1148.0" cy="213.8" r="4.3" fill="url(#bm)"/>
<circle cx="979.8" cy="217.5" r="4.4" fill="url(#bm)"/>
<circle cx="1167.1" cy="87.7" r="4.0" fill="url(#bm)"/>
<circle cx="1046.2" cy="119.2" r="4.5" fill="url(#bm)"/>
<circle cx="938.3" cy="142.3" r="4.4" fill="url(#bm)"/>
<circle cx="886.0" cy="115.8" r="4.0" fill="url(#bm)"/>
<circle cx="1139.6" cy="122.8" r="4.1" fill="url(#bm)"/>
<circle cx="1113.1" cy="183.4" r="3.9" fill="url(#bm)"/>
<circle cx="1124.0" cy="56.5" r="4.3" fill="url(#bm)"/>
<circle cx="1135.4" cy="21.3" r="4.3" fill="url(#bm)"/>
<circle cx="1018.0" cy="196.3" r="4.2" fill="url(#bm)"/>
<circle cx="914.1" cy="51.7" r="4.7" fill="url(#bm)"/>
<circle cx="894.4" cy="88.6" r="3.9" fill="url(#bm)"/>
<circle cx="1007.7" cy="218.4" r="4.0" fill="url(#bm)"/>
<circle cx="930.1" cy="12.5" r="4.2" fill="url(#bm)"/>
<circle cx="1130.5" cy="30.6" r="4.3" fill="url(#bm)"/>
<circle cx="1091.2" cy="89.7" r="3.9" fill="url(#bm)"/>
<circle cx="1076.1" cy="24.6" r="4.0" fill="url(#bm)"/>
<circle cx="1053.9" cy="138.3" r="4.2" fill="url(#bm)"/>
<circle cx="1165.4" cy="199.5" r="4.0" fill="url(#bm)"/>
<circle cx="892.0" cy="18.4" r="4.1" fill="url(#bm)"/>
<circle cx="1093.1" cy="228.1" r="4.1" fill="url(#bm)"/>
<circle cx="1039.5" cy="124.7" r="4.8" fill="url(#bm)"/>
<circle cx="1094.4" cy="166.7" r="4.7" fill="url(#bb)"/>
<circle cx="935.7" cy="34.5" r="4.0" fill="url(#bm)"/>
<circle cx="1013.3" cy="133.7" r="4.1" fill="url(#bm)"/>
<circle cx="920.2" cy="183.2" r="4.4" fill="url(#bm)"/>
<circle cx="974.8" cy="44.1" r="4.0" fill="url(#bm)"/>
<circle cx="983.3" cy="87.6" r="3.9" fill="url(#bm)"/>
<circle cx="955.1" cy="47.0" r="4.3" fill="url(#bm)"/>
<circle cx="1155.5" cy="92.7" r="4.0" fill="url(#bm)"/>
<circle cx="1184.0" cy="185.3" r="4.8" fill="url(#bm)"/>
<circle cx="1159.2" cy="162.5" r="4.1" fill="url(#bm)"/>
<circle cx="1166.7" cy="156.2" r="4.7" fill="url(#bm)"/>
<circle cx="944.4" cy="154.0" r="4.8" fill="url(#bm)"/>
<circle cx="1119.4" cy="180.2" r="4.1" fill="url(#bm)"/>
<circle cx="1007.6" cy="226.6" r="4.8" fill="url(#bb)"/>
<circle cx="1024.2" cy="228.1" r="5.0" fill="url(#bb)"/>
<circle cx="972.4" cy="89.7" r="3.9" fill="url(#bm)"/>
<circle cx="899.8" cy="146.4" r="4.1" fill="url(#bm)"/>
<circle cx="968.5" cy="12.8" r="4.1" fill="url(#bm)"/>
<circle cx="1142.2" cy="165.9" r="3.1" fill="url(#bs)"/>
<circle cx="924.8" cy="2.5" r="3.1" fill="url(#bs)"/>
<circle cx="1084.7" cy="183.5" r="3.4" fill="url(#bm)"/>
<circle cx="1041.6" cy="132.9" r="3.7" fill="url(#bm)"/>
<circle cx="1176.0" cy="27.5" r="3.2" fill="url(#bs)"/>
<circle cx="927.3" cy="124.7" r="3.3" fill="url(#bm)"/>
<circle cx="1048.1" cy="19.5" r="3.5" fill="url(#bm)"/>
<circle cx="1088.8" cy="4.2" r="3.7" fill="url(#bm)"/>
<circle cx="1070.9" cy="95.3" r="3.2" fill="url(#bs)"/>
<circle cx="1150.8" cy="45.5" r="3.3" fill="url(#bs)"/>
<circle cx="945.3" cy="118.3" r="3.2" fill="url(#bs)"/>
<circle cx="1130.9" cy="3.7" r="3.1" fill="url(#bs)"/>
<circle cx="1083.7" cy="90.0" r="3.9" fill="url(#bm)"/>
<circle cx="1080.7" cy="35.8" r="3.4" fill="url(#bm)"/>
<circle cx="1176.6" cy="173.7" r="3.2" fill="url(#bs)"/>
<circle cx="923.4" cy="105.5" r="3.3" fill="url(#bs)"/>
<circle cx="1042.6" cy="38.6" r="3.4" fill="url(#bm)"/>
<circle cx="893.2" cy="54.9" r="3.1" fill="url(#bs)"/>
<circle cx="1054.6" cy="226.2" r="3.2" fill="url(#bs)"/>
<circle cx="1128.3" cy="89.9" r="3.4" fill="url(#bm)"/>
<circle cx="1135.6" cy="186.0" r="3.1" fill="url(#bs)"/>
<circle cx="997.7" cy="61.6" r="3.5" fill="url(#bm)"/>
<circle cx="893.1" cy="217.0" r="3.1" fill="url(#bs)"/>
<circle cx="1095.3" cy="133.9" r="3.8" fill="url(#bm)"/>
<circle cx="995.4" cy="128.4" r="3.6" fill="url(#bm)"/>
<circle cx="1171.5" cy="106.0" r="3.1" fill="url(#bs)"/>
<circle cx="1126.1" cy="138.2" r="3.7" fill="url(#bm)"/>
<circle cx="1001.1" cy="153.4" r="3.1" fill="url(#bs)"/>
<circle cx="906.1" cy="114.8" r="3.2" fill="url(#bs)"/>
<circle cx="1141.5" cy="146.7" r="3.1" fill="url(#bs)"/>
<circle cx="985.7" cy="1.9" r="3.7" fill="url(#bm)"/>
<circle cx="1079.7" cy="46.7" r="3.4" fill="url(#bm)"/>
<circle cx="1050.7" cy="39.6" r="3.7" fill="url(#bm)"/>
<circle cx="1064.1" cy="160.6" r="3.7" fill="url(#bm)"/>
<circle cx="1087.4" cy="209.1" r="3.6" fill="url(#bm)"/>
<circle cx="1137.7" cy="152.2" r="3.4" fill="url(#bm)"/>
<circle cx="1015.2" cy="167.2" r="3.1" fill="url(#bs)"/>
<circle cx="975.0" cy="106.7" r="3.8" fill="url(#bm)"/>
<circle cx="1134.2" cy="110.2" r="3.1" fill="url(#bs)"/>
<circle cx="1173.7" cy="100.8" r="3.5" fill="url(#bm)"/>
<circle cx="1115.1" cy="23.6" r="3.6" fill="url(#bm)"/>
<circle cx="982.7" cy="100.4" r="3.3" fill="url(#bm)"/>
<circle cx="1125.2" cy="123.7" r="3.4" fill="url(#bm)"/>
<circle cx="1044.6" cy="189.5" r="3.4" fill="url(#bm)"/>
<circle cx="969.3" cy="40.1" r="3.3" fill="url(#bs)"/>
<circle cx="1100.7" cy="188.1" r="3.5" fill="url(#bm)"/>
<circle cx="1039.4" cy="33.9" r="3.3" fill="url(#bs)"/>
<circle cx="1053.6" cy="194.0" r="3.2" fill="url(#bs)"/>
<circle cx="1010.6" cy="181.0" r="3.3" fill="url(#bm)"/>
<circle cx="908.6" cy="93.7" r="3.4" fill="url(#bm)"/>
<circle cx="954.5" cy="102.2" r="3.5" fill="url(#bm)"/>
<circle cx="905.7" cy="194.7" r="3.3" fill="url(#bm)"/>
<circle cx="992.7" cy="103.3" r="3.1" fill="url(#bs)"/>
<circle cx="1112.4" cy="72.8" r="3.1" fill="url(#bs)"/>
<circle cx="979.1" cy="14.4" r="3.2" fill="url(#bs)"/>
<circle cx="948.7" cy="122.9" r="3.1" fill="url(#bs)"/>
<circle cx="1019.0" cy="204.6" r="3.2" fill="url(#bs)"/>
<circle cx="1125.8" cy="218.3" r="3.3" fill="url(#bm)"/>
<circle cx="1129.8" cy="153.6" r="3.7" fill="url(#bm)"/>
<circle cx="889.6" cy="145.1" r="3.4" fill="url(#bm)"/>
<circle cx="941.2" cy="30.8" r="3.8" fill="url(#bm)"/>
<circle cx="1174.4" cy="3.4" r="3.3" fill="url(#bs)"/>
<circle cx="1083.0" cy="150.1" r="3.1" fill="url(#bs)"/>
<circle cx="1060.3" cy="54.6" r="3.2" fill="url(#bs)"/>
<circle cx="952.3" cy="3.0" r="3.5" fill="url(#bm)"/>
<circle cx="883.0" cy="68.0" r="3.4" fill="url(#bm)"/>
<circle cx="994.2" cy="2.4" r="3.5" fill="url(#bm)"/>
<circle cx="1050.5" cy="111.1" r="3.8" fill="url(#bm)"/>
<circle cx="1074.1" cy="51.2" r="3.9" fill="url(#bm)"/>
<circle cx="1123.0" cy="87.6" r="3.6" fill="url(#bm)"/>
<circle cx="1069.4" cy="196.7" r="3.5" fill="url(#bm)"/>
<circle cx="1166.5" cy="78.5" r="3.9" fill="url(#bm)"/>
<circle cx="920.3" cy="203.2" r="3.2" fill="url(#bs)"/>
<circle cx="1114.6" cy="163.3" r="3.5" fill="url(#bm)"/>
<circle cx="1028.1" cy="60.6" r="3.5" fill="url(#bm)"/>
<circle cx="973.8" cy="164.4" r="3.2" fill="url(#bs)"/>
<circle cx="983.5" cy="149.7" r="3.1" fill="url(#bs)"/>
<circle cx="937.3" cy="12.1" r="3.8" fill="url(#bm)"/>
<circle cx="945.6" cy="18.0" r="3.1" fill="url(#bs)"/>
<circle cx="980.4" cy="61.3" r="3.4" fill="url(#bm)"/>
<circle cx="979.3" cy="93.5" r="3.9" fill="url(#bm)"/>
<circle cx="1102.6" cy="116.7" r="3.7" fill="url(#bm)"/>
<circle cx="920.1" cy="165.5" r="3.2" fill="url(#bs)"/>
<circle cx="1003.8" cy="16.5" r="3.2" fill="url(#bs)"/>
<circle cx="1055.1" cy="2.0" r="3.1" fill="url(#bs)"/>
<circle cx="1093.6" cy="127.7" r="3.5" fill="url(#bm)"/>
<circle cx="1161.0" cy="89.4" r="3.1" fill="url(#bs)"/>
<circle cx="897.4" cy="39.1" r="3.1" fill="url(#bs)"/>
<circle cx="1179.2" cy="158.8" r="3.4" fill="url(#bm)"/>
<circle cx="1119.4" cy="152.2" r="3.4" fill="url(#bm)"/>
<circle cx="934.1" cy="50.4" r="3.2" fill="url(#bs)"/>
<circle cx="939.2" cy="204.8" r="3.2" fill="url(#bs)"/>
<circle cx="1047.9" cy="137.2" r="3.1" fill="url(#bs)"/>
<circle cx="894.1" cy="149.4" r="3.2" fill="url(#bs)"/>
<circle cx="1121.7" cy="188.5" r="3.1" fill="url(#bs)"/>
<circle cx="923.0" cy="87.0" r="3.9" fill="url(#bm)"/>
<circle cx="1071.2" cy="132.6" r="3.5" fill="url(#bm)"/>
<circle cx="1073.5" cy="6.5" r="3.5" fill="url(#bm)"/>
<circle cx="985.1" cy="79.1" r="3.4" fill="url(#bm)"/>
<circle cx="910.3" cy="176.7" r="3.3" fill="url(#bm)"/>
<circle cx="981.9" cy="180.2" r="3.3" fill="url(#bm)"/>
<circle cx="940.6" cy="82.1" r="3.4" fill="url(#bm)"/>
<circle cx="975.6" cy="125.5" r="3.3" fill="url(#bm)"/>
<circle cx="1154.9" cy="103.2" r="3.2" fill="url(#bs)"/>
<circle cx="1154.5" cy="120.9" r="3.6" fill="url(#bm)"/>
<circle cx="970.9" cy="33.5" r="3.2" fill="url(#bs)"/>
<circle cx="1098.7" cy="201.8" r="3.7" fill="url(#bm)"/>
<circle cx="1008.7" cy="108.1" r="3.5" fill="url(#bm)"/>
<circle cx="1091.7" cy="51.8" r="3.1" fill="url(#bs)"/>
<circle cx="1067.8" cy="51.7" r="3.5" fill="url(#bm)"/>
<circle cx="1047.1" cy="85.5" r="3.1" fill="url(#bs)"/>
<circle cx="919.8" cy="121.1" r="3.1" fill="url(#bs)"/>
<circle cx="988.7" cy="192.3" r="3.3" fill="url(#bm)"/>
<circle cx="1048.3" cy="176.5" r="3.2" fill="url(#bs)"/>
<circle cx="1136.6" cy="70.0" r="3.1" fill="url(#bs)"/>
<circle cx="1184.0" cy="205.7" r="3.7" fill="url(#bm)"/>
<circle cx="892.4" cy="96.9" r="3.5" fill="url(#bm)"/>
<circle cx="1159.8" cy="2.0" r="3.1" fill="url(#bs)"/>
<circle cx="1066.6" cy="98.4" r="3.2" fill="url(#bs)"/>
<circle cx="943.5" cy="64.4" r="3.4" fill="url(#bm)"/>
<circle cx="1065.2" cy="84.9" r="3.5" fill="url(#bm)"/>
<circle cx="999.8" cy="40.2" r="3.5" fill="url(#bm)"/>
<circle cx="1090.2" cy="21.7" r="3.2" fill="url(#bs)"/>
<circle cx="1017.8" cy="159.7" r="3.2" fill="url(#bs)"/>
<circle cx="900.9" cy="35.5" r="3.1" fill="url(#bs)"/>
<circle cx="1021.1" cy="12.9" r="3.3" fill="url(#bs)"/>
<circle cx="928.7" cy="188.1" r="3.5" fill="url(#bm)"/>
<circle cx="1080.4" cy="140.0" r="3.3" fill="url(#bs)"/>
<circle cx="971.7" cy="199.1" r="3.3" fill="url(#bs)"/>
<circle cx="915.1" cy="178.8" r="3.1" fill="url(#bs)"/>
<circle cx="935.2" cy="55.9" r="3.2" fill="url(#bs)"/>
<circle cx="1154.1" cy="25.4" r="3.2" fill="url(#bs)"/>
<circle cx="1042.9" cy="209.7" r="3.1" fill="url(#bs)"/>
<circle cx="1090.6" cy="182.6" r="3.6" fill="url(#bm)"/>
<circle cx="1169.7" cy="38.9" r="3.3" fill="url(#bs)"/>
<circle cx="1023.1" cy="93.7" r="3.9" fill="url(#bm)"/>
<circle cx="1039.9" cy="2.2" r="3.4" fill="url(#bm)"/>
<circle cx="1075.5" cy="170.4" r="3.3" fill="url(#bs)"/>
<circle cx="956.8" cy="211.5" r="3.6" fill="url(#bm)"/>
<circle cx="966.7" cy="80.9" r="3.4" fill="url(#bm)"/>
<circle cx="948.8" cy="208.0" r="3.7" fill="url(#bm)"/>
<circle cx="1104.2" cy="198.0" r="3.4" fill="url(#bm)"/>
<circle cx="1108.7" cy="219.0" r="3.3" fill="url(#bs)"/>
<circle cx="970.8" cy="152.2" r="3.8" fill="url(#bm)"/>
<circle cx="1042.8" cy="60.6" r="3.9" fill="url(#bm)"/>
<circle cx="891.6" cy="163.7" r="3.2" fill="url(#bs)"/>
<circle cx="1164.9" cy="142.6" r="3.5" fill="url(#bm)"/>
<circle cx="929.1" cy="19.7" r="3.6" fill="url(#bm)"/>
<circle cx="1091.9" cy="202.2" r="3.3" fill="url(#bm)"/>
<circle cx="1184.3" cy="57.6" r="3.2" fill="url(#bs)"/>
<circle cx="1057.6" cy="82.4" r="3.1" fill="url(#bs)"/>
<circle cx="1011.9" cy="197.3" r="3.1" fill="url(#bs)"/>
<circle cx="1014.1" cy="51.6" r="3.6" fill="url(#bm)"/>
<circle cx="1183.8" cy="175.6" r="3.6" fill="url(#bm)"/>
<circle cx="1078.2" cy="94.3" r="3.1" fill="url(#bs)"/>
<circle cx="897.5" cy="59.6" r="3.2" fill="url(#bs)"/>
<circle cx="893.1" cy="187.6" r="3.1" fill="url(#bs)"/>
<circle cx="1025.2" cy="9.5" r="3.1" fill="url(#bs)"/>
<circle cx="1080.3" cy="102.6" r="3.2" fill="url(#bs)"/>
<circle cx="886.6" cy="172.9" r="3.4" fill="url(#bm)"/>
<circle cx="1158.0" cy="7.6" r="2.6" fill="url(#bs)"/>
<circle cx="1127.9" cy="199.1" r="2.7" fill="url(#bs)"/>
<circle cx="1065.0" cy="69.7" r="2.5" fill="url(#bs)"/>
<circle cx="936.6" cy="77.4" r="2.8" fill="url(#bs)"/>
<circle cx="1067.5" cy="91.2" r="3.0" fill="url(#bs)"/>
<circle cx="945.2" cy="226.1" r="2.7" fill="url(#bs)"/>
<circle cx="1182.0" cy="43.7" r="2.4" fill="url(#bs)"/>
<circle cx="966.2" cy="138.4" r="2.5" fill="url(#bs)"/>
<circle cx="965.2" cy="224.2" r="2.5" fill="url(#bs)"/>
<circle cx="1098.0" cy="184.4" r="2.3" fill="url(#bs)"/>
<circle cx="898.4" cy="71.3" r="2.4" fill="url(#bs)"/>
<circle cx="1171.3" cy="120.1" r="2.3" fill="url(#bs)"/>
<circle cx="1147.3" cy="82.9" r="2.3" fill="url(#bs)"/>
<circle cx="1018.6" cy="212.0" r="2.9" fill="url(#bs)"/>
<circle cx="931.3" cy="121.6" r="2.4" fill="url(#bs)"/>
<circle cx="1162.1" cy="170.0" r="2.5" fill="url(#bs)"/>
<circle cx="1009.6" cy="94.8" r="2.9" fill="url(#bs)"/>
<circle cx="1177.5" cy="140.1" r="2.5" fill="url(#bs)"/>
<circle cx="1160.8" cy="184.9" r="2.5" fill="url(#bs)"/>
<circle cx="1142.7" cy="207.4" r="2.3" fill="url(#bs)"/>
<circle cx="1031.8" cy="125.8" r="2.7" fill="url(#bs)"/>
<circle cx="1145.5" cy="199.2" r="2.8" fill="url(#bs)"/>
<circle cx="940.8" cy="132.3" r="2.9" fill="url(#bs)"/>
<circle cx="887.0" cy="99.3" r="2.8" fill="url(#bs)"/>
<circle cx="928.7" cy="142.4" r="2.8" fill="url(#bs)"/>
<circle cx="896.7" cy="122.5" r="2.4" fill="url(#bs)"/>
<circle cx="1129.5" cy="9.3" r="2.3" fill="url(#bs)"/>
<circle cx="1129.0" cy="212.7" r="2.5" fill="url(#bs)"/>
<circle cx="918.4" cy="138.5" r="2.6" fill="url(#bs)"/>
<circle cx="1173.5" cy="219.3" r="2.4" fill="url(#bs)"/>
<circle cx="940.9" cy="136.6" r="2.3" fill="url(#bs)"/>
<circle cx="1064.6" cy="140.5" r="2.3" fill="url(#bs)"/>
<circle cx="1030.5" cy="109.7" r="2.4" fill="url(#bs)"/>
<circle cx="1182.2" cy="143.1" r="2.4" fill="url(#bs)"/>
<circle cx="938.7" cy="103.4" r="2.5" fill="url(#bs)"/>
<circle cx="1001.6" cy="32.4" r="2.8" fill="url(#bs)"/>
<circle cx="1131.8" cy="206.5" r="2.4" fill="url(#bs)"/>
<circle cx="1135.9" cy="52.7" r="2.3" fill="url(#bs)"/>
<circle cx="932.0" cy="171.5" r="2.4" fill="url(#bs)"/>
<circle cx="1078.1" cy="127.6" r="2.7" fill="url(#bs)"/>
<circle cx="1166.3" cy="52.2" r="2.3" fill="url(#bs)"/>
<circle cx="1153.8" cy="143.4" r="2.6" fill="url(#bs)"/>
<circle cx="918.5" cy="225.6" r="2.4" fill="url(#bs)"/>
<circle cx="1143.7" cy="170.1" r="2.6" fill="url(#bs)"/>
<circle cx="883.2" cy="201.2" r="2.8" fill="url(#bs)"/>
<circle cx="991.4" cy="54.2" r="2.5" fill="url(#bs)"/>
<circle cx="1106.4" cy="133.1" r="2.4" fill="url(#bs)"/>
<circle cx="921.4" cy="21.4" r="2.4" fill="url(#bs)"/>
<circle cx="1142.1" cy="64.0" r="2.9" fill="url(#bs)"/>
<circle cx="884.6" cy="34.9" r="2.5" fill="url(#bs)"/>
<circle cx="942.9" cy="86.9" r="2.6" fill="url(#bs)"/>
<circle cx="1162.1" cy="130.7" r="2.3" fill="url(#bs)"/>
<circle cx="979.3" cy="26.8" r="2.3" fill="url(#bs)"/>
<circle cx="1139.1" cy="43.7" r="2.9" fill="url(#bs)"/>
<circle cx="1047.0" cy="64.6" r="2.4" fill="url(#bs)"/>
<circle cx="1083.1" cy="62.4" r="2.8" fill="url(#bs)"/>
<circle cx="1002.3" cy="204.7" r="2.6" fill="url(#bs)"/>
<circle cx="1013.2" cy="123.2" r="2.5" fill="url(#bs)"/>
<circle cx="1169.9" cy="116.6" r="2.4" fill="url(#bs)"/>
<circle cx="1114.0" cy="206.8" r="2.4" fill="url(#bs)"/>
<circle cx="1119.2" cy="12.4" r="2.8" fill="url(#bs)"/>
<circle cx="1161.9" cy="203.3" r="2.5" fill="url(#bs)"/>
<circle cx="943.4" cy="24.8" r="2.6" fill="url(#bs)"/>
<circle cx="1140.1" cy="11.9" r="2.4" fill="url(#bs)"/>
<circle cx="1059.0" cy="141.1" r="2.9" fill="url(#bs)"/>
<circle cx="1037.0" cy="7.6" r="2.7" fill="url(#bs)"/>
<circle cx="1175.9" cy="205.6" r="3.0" fill="url(#bs)"/>
<circle cx="883.0" cy="226.6" r="2.4" fill="url(#bs)"/>
<circle cx="902.3" cy="135.5" r="2.4" fill="url(#bs)"/>
<circle cx="1141.4" cy="221.6" r="2.6" fill="url(#bs)"/>
<circle cx="1124.9" cy="66.9" r="2.9" fill="url(#bs)"/>
<circle cx="1153.8" cy="97.7" r="2.4" fill="url(#bs)"/>
<circle cx="1134.1" cy="88.2" r="2.3" fill="url(#bs)"/>
<circle cx="909.9" cy="136.2" r="2.5" fill="url(#bs)"/>
<circle cx="887.8" cy="200.8" r="2.4" fill="url(#bs)"/>
<circle cx="901.9" cy="226.4" r="2.8" fill="url(#bs)"/>
<circle cx="898.8" cy="165.5" r="2.7" fill="url(#bs)"/>
<circle cx="1140.5" cy="79.4" r="2.4" fill="url(#bs)"/>
<circle cx="1013.0" cy="127.9" r="2.5" fill="url(#bs)"/>
<circle cx="1129.9" cy="109.7" r="2.4" fill="url(#bs)"/>
<circle cx="1005.2" cy="39.5" r="2.3" fill="url(#bs)"/>
<circle cx="1037.1" cy="15.5" r="2.7" fill="url(#bs)"/>
<circle cx="1111.5" cy="27.8" r="2.3" fill="url(#bs)"/>
<circle cx="980.7" cy="106.5" r="2.6" fill="url(#bs)"/>
<circle cx="1119.1" cy="169.1" r="2.7" fill="url(#bs)"/>
<circle cx="954.2" cy="197.4" r="2.8" fill="url(#bs)"/>
<circle cx="1182.2" cy="107.3" r="2.7" fill="url(#bs)"/>
<circle cx="1077.4" cy="65.2" r="2.9" fill="url(#bs)"/>
<circle cx="1060.6" cy="113.8" r="2.8" fill="url(#bs)"/>
<circle cx="1061.0" cy="213.1" r="2.4" fill="url(#bs)"/>
<circle cx="1085.7" cy="124.8" r="2.8" fill="url(#bs)"/>
<circle cx="1167.0" cy="48.4" r="2.3" fill="url(#bs)"/>
<circle cx="962.4" cy="63.5" r="2.3" fill="url(#bs)"/>
<circle cx="885.1" cy="80.1" r="2.7" fill="url(#bs)"/>
<circle cx="1103.8" cy="14.6" r="2.9" fill="url(#bs)"/>
<circle cx="1126.1" cy="10.9" r="2.5" fill="url(#bs)"/>
<circle cx="1157.1" cy="127.2" r="2.6" fill="url(#bs)"/>
<circle cx="1058.9" cy="72.8" r="2.8" fill="url(#bs)"/>
<circle cx="1079.5" cy="41.7" r="2.3" fill="url(#bs)"/>
<circle cx="1092.1" cy="105.1" r="2.4" fill="url(#bs)"/>
<circle cx="960.0" cy="117.9" r="2.4" fill="url(#bs)"/>
<circle cx="926.2" cy="92.5" r="2.5" fill="url(#bs)"/>
<circle cx="1138.5" cy="74.6" r="2.6" fill="url(#bs)"/>
<circle cx="1100.6" cy="147.5" r="2.4" fill="url(#bs)"/>
<circle cx="1000.5" cy="142.9" r="2.6" fill="url(#bs)"/>
<circle cx="902.9" cy="141.2" r="2.8" fill="url(#bs)"/>
<circle cx="1096.2" cy="160.0" r="2.4" fill="url(#bs)"/>
<circle cx="1120.0" cy="131.7" r="2.4" fill="url(#bs)"/>
<circle cx="1176.1" cy="10.8" r="2.5" fill="url(#bs)"/>
<circle cx="922.7" cy="117.5" r="2.6" fill="url(#bs)"/>
<circle cx="1051.0" cy="83.2" r="2.4" fill="url(#bs)"/>
<circle cx="949.2" cy="100.7" r="2.5" fill="url(#bs)"/>
<circle cx="997.8" cy="26.1" r="2.3" fill="url(#bs)"/>
<circle cx="1136.7" cy="181.0" r="2.7" fill="url(#bs)"/>
<circle cx="1004.8" cy="193.5" r="2.7" fill="url(#bs)"/>
<circle cx="1156.8" cy="225.6" r="2.4" fill="url(#bs)"/>
<circle cx="1065.1" cy="125.9" r="2.5" fill="url(#bs)"/>
<circle cx="1071.2" cy="209.4" r="2.6" fill="url(#bs)"/>
<circle cx="971.0" cy="204.3" r="2.5" fill="url(#bs)"/>
<circle cx="1133.6" cy="124.9" r="2.4" fill="url(#bs)"/>
<circle cx="1124.5" cy="214.0" r="2.4" fill="url(#bs)"/>
<circle cx="922.0" cy="46.0" r="2.6" fill="url(#bs)"/>
<circle cx="1088.0" cy="226.2" r="2.6" fill="url(#bs)"/>
<circle cx="1169.8" cy="65.4" r="2.7" fill="url(#bs)"/>
<circle cx="1005.9" cy="11.8" r="2.5" fill="url(#bs)"/>
<circle cx="1041.5" cy="196.8" r="2.7" fill="url(#bs)"/>
<circle cx="1082.1" cy="209.1" r="2.6" fill="url(#bs)"/>
<circle cx="993.1" cy="25.9" r="2.5" fill="url(#bs)"/>
<circle cx="1065.8" cy="38.1" r="2.3" fill="url(#bs)"/>
<circle cx="1162.8" cy="137.9" r="2.5" fill="url(#bs)"/>
<circle cx="1101.9" cy="193.6" r="2.6" fill="url(#bs)"/>
<circle cx="1171.4" cy="29.3" r="2.8" fill="url(#bs)"/>
<circle cx="1022.2" cy="208.3" r="2.5" fill="url(#bs)"/>
<circle cx="1050.0" cy="67.0" r="2.7" fill="url(#bs)"/>
<circle cx="1184.0" cy="159.2" r="2.6" fill="url(#bs)"/>
<circle cx="1123.4" cy="49.9" r="2.3" fill="url(#bs)"/>
<circle cx="997.5" cy="10.8" r="2.6" fill="url(#bs)"/>
<circle cx="1070.1" cy="22.5" r="2.5" fill="url(#bs)"/>
<circle cx="899.8" cy="67.2" r="2.7" fill="url(#bs)"/>
<circle cx="995.3" cy="66.4" r="2.4" fill="url(#bs)"/>
<circle cx="1110.3" cy="131.5" r="2.9" fill="url(#bs)"/>
<circle cx="998.7" cy="158.9" r="2.5" fill="url(#bs)"/>
<circle cx="1021.3" cy="20.3" r="2.4" fill="url(#bs)"/>
<circle cx="1082.5" cy="218.1" r="2.4" fill="url(#bs)"/>
<circle cx="1074.9" cy="150.8" r="2.3" fill="url(#bs)"/>
<circle cx="1183.2" cy="219.9" r="2.3" fill="url(#bs)"/>
<circle cx="921.2" cy="64.9" r="2.7" fill="url(#bs)"/>
<circle cx="1107.3" cy="119.8" r="2.3" fill="url(#bs)"/>
<circle cx="1173.2" cy="158.5" r="2.4" fill="url(#bs)"/>
<circle cx="953.7" cy="40.2" r="2.4" fill="url(#bs)"/>
<circle cx="961.3" cy="205.3" r="2.4" fill="url(#bs)"/>
<circle cx="913.9" cy="104.0" r="2.3" fill="url(#bs)"/>
<circle cx="1133.4" cy="35.6" r="2.5" fill="url(#bs)"/>
<circle cx="1042.4" cy="47.4" r="2.3" fill="url(#bs)"/>
<circle cx="984.4" cy="143.4" r="2.5" fill="url(#bs)"/>
<circle cx="958.3" cy="147.4" r="2.3" fill="url(#bs)"/>
<circle cx="1122.5" cy="221.8" r="2.7" fill="url(#bs)"/>
<circle cx="1129.4" cy="53.3" r="2.4" fill="url(#bs)"/>
<circle cx="883.4" cy="102.4" r="2.3" fill="url(#bs)"/>
<circle cx="1057.1" cy="198.0" r="2.6" fill="url(#bs)"/>
<circle cx="1068.3" cy="214.8" r="2.7" fill="url(#bs)"/>
<circle cx="1015.7" cy="92.7" r="2.3" fill="url(#bs)"/>
<circle cx="1019.5" cy="134.6" r="2.9" fill="url(#bs)"/>
<circle cx="1052.1" cy="153.3" r="2.7" fill="url(#bs)"/>
<circle cx="1002.5" cy="217.0" r="2.5" fill="url(#bs)"/>
<circle cx="1159.9" cy="108.7" r="2.5" fill="url(#bs)"/>
<circle cx="1172.6" cy="83.9" r="2.4" fill="url(#bs)"/>
<circle cx="938.0" cy="108.4" r="2.5" fill="url(#bs)"/>
<circle cx="912.2" cy="209.9" r="2.9" fill="url(#bs)"/>
<circle cx="1006.3" cy="152.1" r="2.4" fill="url(#bs)"/>
<circle cx="1058.0" cy="191.8" r="2.4" fill="url(#bs)"/>
<circle cx="1153.1" cy="41.3" r="2.5" fill="url(#bs)"/>
<circle cx="1125.2" cy="195.3" r="2.3" fill="url(#bs)"/>
<circle cx="1169.4" cy="173.9" r="2.5" fill="url(#bs)"/>
<circle cx="1018.7" cy="71.0" r="2.4" fill="url(#bs)"/>
<circle cx="1136.4" cy="105.5" r="2.8" fill="url(#bs)"/>
<circle cx="1003.5" cy="36.1" r="2.5" fill="url(#bs)"/>
<circle cx="1009.1" cy="89.1" r="2.8" fill="url(#bs)"/>
<circle cx="999.9" cy="219.9" r="2.3" fill="url(#bs)"/>
<circle cx="1043.1" cy="15.7" r="2.4" fill="url(#bs)"/>
<circle cx="1112.1" cy="19.5" r="2.3" fill="url(#bs)"/>
<circle cx="942.0" cy="1.7" r="2.4" fill="url(#bs)"/>
<circle cx="1155.6" cy="21.1" r="2.4" fill="url(#bs)"/>
<circle cx="976.9" cy="75.3" r="2.8" fill="url(#bs)"/>
<circle cx="1102.4" cy="75.3" r="2.4" fill="url(#bs)"/>
<circle cx="1147.8" cy="118.7" r="2.4" fill="url(#bs)"/>
<circle cx="1174.8" cy="223.6" r="2.6" fill="url(#bs)"/>
<circle cx="1142.9" cy="160.7" r="2.4" fill="url(#bs)"/>
<circle cx="1078.1" cy="149.0" r="2.4" fill="url(#bs)"/>
<circle cx="1104.1" cy="104.4" r="2.4" fill="url(#bs)"/>
<circle cx="1103.9" cy="166.9" r="2.5" fill="url(#bs)"/>
<circle cx="1066.9" cy="20.0" r="2.3" fill="url(#bs)"/>
<circle cx="1108.6" cy="136.7" r="2.4" fill="url(#bs)"/>
<circle cx="1009.8" cy="10.3" r="2.5" fill="url(#bs)"/>
<circle cx="930.5" cy="218.6" r="2.9" fill="url(#bs)"/>
<circle cx="1076.4" cy="134.9" r="2.7" fill="url(#bs)"/>
<circle cx="1150.9" cy="51.1" r="2.5" fill="url(#bs)"/>
<circle cx="1086.7" cy="86.1" r="2.4" fill="url(#bs)"/>
<circle cx="1109.8" cy="200.1" r="2.6" fill="url(#bs)"/>
<circle cx="1047.5" cy="161.1" r="2.5" fill="url(#bs)"/>
<circle cx="896.3" cy="23.7" r="2.4" fill="url(#bs)"/>
<circle cx="1158.4" cy="37.3" r="2.7" fill="url(#bs)"/>
<circle cx="915.2" cy="76.9" r="2.4" fill="url(#bs)"/>
<circle cx="1182.7" cy="77.6" r="2.4" fill="url(#bs)"/>
<circle cx="978.4" cy="70.2" r="2.6" fill="url(#bs)"/>
<circle cx="1020.1" cy="118.0" r="2.9" fill="url(#bs)"/>
<circle cx="1090.7" cy="9.8" r="2.4" fill="url(#bs)"/>
<circle cx="1138.1" cy="138.2" r="2.8" fill="url(#bs)"/>
<circle cx="1084.3" cy="189.4" r="2.9" fill="url(#bs)"/>
<circle cx="971.2" cy="194.1" r="2.6" fill="url(#bs)"/>
<circle cx="976.2" cy="150.9" r="2.4" fill="url(#bs)"/>
<circle cx="948.9" cy="175.3" r="2.3" fill="url(#bs)"/>
<circle cx="882.9" cy="2.0" r="3.0" fill="url(#bs)"/>
<circle cx="884.8" cy="30.2" r="2.4" fill="url(#bs)"/>
<circle cx="983.3" cy="187.3" r="2.5" fill="url(#bs)"/>
<circle cx="1055.0" cy="50.8" r="2.6" fill="url(#bs)"/>
<circle cx="974.9" cy="30.0" r="2.3" fill="url(#bs)"/>
<circle cx="1068.7" cy="81.2" r="2.6" fill="url(#bs)"/>
<circle cx="1019.4" cy="153.6" r="2.7" fill="url(#bs)"/>
<circle cx="1045.4" cy="53.8" r="2.4" fill="url(#bs)"/>
<circle cx="923.4" cy="138.6" r="2.3" fill="url(#bs)"/>
<circle cx="1042.2" cy="178.2" r="2.3" fill="url(#bs)"/>
<circle cx="1059.2" cy="124.7" r="2.6" fill="url(#bs)"/>
<circle cx="970.7" cy="139.2" r="2.6" fill="url(#bs)"/>
<circle cx="884.1" cy="62.9" r="2.7" fill="url(#bs)"/>
<circle cx="1093.0" cy="25.7" r="2.8" fill="url(#bs)"/>
<circle cx="995.8" cy="108.7" r="2.6" fill="url(#bs)"/>
<circle cx="1086.8" cy="204.3" r="2.5" fill="url(#bs)"/>
<circle cx="1051.6" cy="14.4" r="2.9" fill="url(#bs)"/>
<circle cx="1175.1" cy="143.6" r="2.5" fill="url(#bs)"/>
<circle cx="983.8" cy="210.9" r="2.3" fill="url(#bs)"/>
<circle cx="909.5" cy="107.1" r="2.7" fill="url(#bs)"/>
<circle cx="979.9" cy="136.4" r="2.5" fill="url(#bs)"/>
<circle cx="967.3" cy="171.0" r="2.6" fill="url(#bs)"/>
<circle cx="1025.9" cy="17.8" r="2.5" fill="url(#bs)"/>
<circle cx="1184.2" cy="92.5" r="2.3" fill="url(#bs)"/>
<circle cx="1171.8" cy="80.1" r="2.8" fill="url(#bs)"/>
<circle cx="961.3" cy="99.2" r="2.9" fill="url(#bs)"/>
<circle cx="986.7" cy="30.3" r="2.7" fill="url(#bs)"/>
<circle cx="911.3" cy="68.1" r="2.6" fill="url(#bs)"/>
<circle cx="1159.7" cy="197.8" r="2.5" fill="url(#bs)"/>
<circle cx="1169.3" cy="215.5" r="2.9" fill="url(#bs)"/>
<circle cx="1082.6" cy="144.6" r="2.9" fill="url(#bs)"/>
<circle cx="1116.7" cy="191.8" r="2.4" fill="url(#bs)"/>
<circle cx="975.2" cy="66.1" r="2.5" fill="url(#bs)"/>
<circle cx="956.4" cy="220.3" r="2.4" fill="url(#bs)"/>
<circle cx="1062.0" cy="11.5" r="2.5" fill="url(#bs)"/>
<circle cx="1176.6" cy="132.7" r="2.7" fill="url(#bs)"/>
<circle cx="1115.5" cy="18.3" r="2.5" fill="url(#bs)"/>
<circle cx="1175.1" cy="162.9" r="2.7" fill="url(#bs)"/>
<circle cx="963.1" cy="113.1" r="2.4" fill="url(#bs)"/>
<circle cx="1137.6" cy="206.9" r="2.4" fill="url(#bs)"/>
<circle cx="1112.6" cy="223.1" r="2.6" fill="url(#bs)"/>
<circle cx="959.1" cy="141.2" r="2.9" fill="url(#bs)"/>
<circle cx="990.5" cy="226.3" r="2.6" fill="url(#bs)"/>
<circle cx="991.4" cy="168.3" r="2.4" fill="url(#bs)"/>
</g></g>
<path d="M396.2,244.7 A16,16 0 0 0 380.2,228.7 L316.2,228.7 A16,16 0 0 0 300.2,244.7 L300.2,596.2 A16,16 0 0 0 316.2,612.2 L380.2,612.2 A16,16 0 0 0 396.2,596.2" fill="none" stroke="#000" stroke-width="1.7" stroke-dasharray="8.6 6.2"/>
<path d="M397.6,253.7 A25,25 0 0 1 422.6,228.7 L524.8,228.7 A25,25 0 0 1 549.8,253.7 L549.8,587.2 A25,25 0 0 1 524.8,612.2 L422.6,612.2 A25,25 0 0 1 397.6,587.2" fill="none" stroke="#000" stroke-width="1.7" stroke-dasharray="8.6 6.2"/>
<line x1="397.2" y1="252.9" x2="397.2" y2="592.2" stroke="#000" stroke-width="3" stroke-dasharray="9.4 5.8"/>
<text x="288.89" y="643.1" textLength="111.92" lengthAdjust="spacingAndGlyphs" style="font-family:'Liberation Serif',serif;font-size:20px;font-weight:bold;" >HG Domains</text>
<text x="423.79" y="643.1" textLength="125.21" lengthAdjust="spacingAndGlyphs" style="font-family:'Liberation Serif',serif;font-size:20px;font-weight:bold;" >RG-I Domains</text>
<ellipse cx="406.0" cy="251.7" rx="3.4" ry="2.9" fill="#2f5597"/>
<ellipse cx="406.0" cy="260.6" rx="3.4" ry="2.9" fill="#2f5597"/>
<ellipse cx="406.0" cy="270.5" rx="3.4" ry="2.9" fill="#2f5597"/>
<ellipse cx="406.0" cy="280.1" rx="3.4" ry="2.9" fill="#2f5597"/>
<ellipse cx="406.0" cy="289.6" rx="3.4" ry="2.9" fill="#2f5597"/>
<ellipse cx="426.9" cy="260.6" rx="3.4" ry="2.9" fill="#2f5597"/>
<ellipse cx="426.9" cy="270.5" rx="3.4" ry="2.9" fill="#2f5597"/>
<ellipse cx="426.9" cy="280.1" rx="3.4" ry="2.9" fill="#2f5597"/>
<ellipse cx="426.9" cy="289.6" rx="3.4" ry="2.9" fill="#2f5597"/>
<ellipse cx="433.1" cy="252.1" rx="3.4" ry="2.9" fill="#cc0099"/>
<ellipse cx="436.0" cy="260.6" rx="3.4" ry="2.9" fill="#00b0f0"/>
<ellipse cx="444.5" cy="260.6" rx="3.4" ry="2.9" fill="#00b0f0"/>
<ellipse cx="418.9" cy="270.3" rx="3.4" ry="2.9" fill="#00b0f0"/>
<ellipse cx="471.4" cy="251.7" rx="3.4" ry="2.9" fill="#00b0f0"/>
<ellipse cx="471.4" cy="260.6" rx="3.4" ry="2.9" fill="#2f5597"/>
<ellipse cx="471.4" cy="270.5" rx="3.4" ry="2.9" fill="#2f5597"/>
<ellipse cx="471.4" cy="280.1" rx="3.4" ry="2.9" fill="#2f5597"/>
<ellipse cx="471.4" cy="289.6" rx="3.4" ry="2.9" fill="#2f5597"/>
<ellipse cx="454.9" cy="270.5" rx="3.4" ry="2.9" fill="#2f5597"/>
<ellipse cx="463.1" cy="270.5" rx="3.4" ry="2.9" fill="#2f5597"/>
<ellipse cx="493.4" cy="251.7" rx="3.4" ry="2.9" fill="#00b0f0"/>
<ellipse cx="493.4" cy="260.6" rx="3.4" ry="2.9" fill="#00b0f0"/>
<ellipse cx="493.4" cy="270.5" rx="3.4" ry="2.9" fill="#00b0f0"/>
<ellipse cx="493.4" cy="280.1" rx="3.4" ry="2.9" fill="#00b0f0"/>
<ellipse cx="493.4" cy="289.6" rx="3.4" ry="2.9" fill="#00b0f0"/>
<ellipse cx="502.9" cy="270.5" rx="3.4" ry="2.9" fill="#00b0f0"/>
<ellipse cx="512.2" cy="270.5" rx="3.4" ry="2.9" fill="#00b0f0"/>
<ellipse cx="521.3" cy="270.5" rx="3.4" ry="2.9" fill="#00b0f0"/>
<ellipse cx="502.9" cy="289.6" rx="3.4" ry="2.9" fill="#00b0f0"/>
<ellipse cx="406.0" cy="297.6" rx="3.4" ry="2.9" fill="#a9d18e"/>
<ellipse cx="426.9" cy="297.6" rx="3.4" ry="2.9" fill="#a9d18e"/>
<ellipse cx="449.2" cy="297.6" rx="3.4" ry="2.9" fill="#a9d18e"/>
<ellipse cx="471.4" cy="297.6" rx="3.4" ry="2.9" fill="#a9d18e"/>
<ellipse cx="493.4" cy="297.6" rx="3.4" ry="2.9" fill="#a9d18e"/>
<ellipse cx="394.2" cy="308.0" rx="3.4" ry="2.9" fill="#a9d18e"/>
<ellipse cx="417.9" cy="308.0" rx="3.4" ry="2.9" fill="#a9d18e"/>
<ellipse cx="439.7" cy="308.0" rx="3.4" ry="2.9" fill="#a9d18e"/>
<ellipse cx="461.9" cy="308.0" rx="3.4" ry="2.9" fill="#a9d18e"/>
<ellipse cx="483.9" cy="308.0" rx="3.4" ry="2.9" fill="#a9d18e"/>
<ellipse cx="504.2" cy="308.0" rx="3.4" ry="2.9" fill="#a9d18e"/>
<ellipse cx="454.9" cy="315.6" rx="3.4" ry="2.9" fill="#00b0f0"/>
<ellipse cx="454.9" cy="323.8" rx="3.4" ry="2.9" fill="#2f5597"/>
<ellipse cx="461.9" cy="322.6" rx="3.4" ry="2.9" fill="#2f5597"/>
<ellipse cx="446.8" cy="326.0" rx="3.4" ry="2.9" fill="#2f5597"/>
<ellipse cx="454.4" cy="334.2" rx="3.4" ry="2.9" fill="#2f5597"/>
<ellipse cx="454.4" cy="344.4" rx="3.4" ry="2.9" fill="#2f5597"/>
<ellipse cx="504.2" cy="316.2" rx="3.4" ry="2.9" fill="#00b0f0"/>
<ellipse cx="504.2" cy="325.7" rx="3.4" ry="2.9" fill="#00b0f0"/>
<ellipse cx="504.2" cy="335.0" rx="3.4" ry="2.9" fill="#00b0f0"/>
<ellipse cx="504.2" cy="344.4" rx="3.4" ry="2.9" fill="#00b0f0"/>
<ellipse cx="504.2" cy="353.9" rx="3.4" ry="2.9" fill="#00b0f0"/>
<ellipse cx="494.8" cy="325.7" rx="3.4" ry="2.9" fill="#cc0099"/>
<ellipse cx="531.7" cy="302.9" rx="3.5" ry="2.8" fill="url(#gd)"/><ellipse cx="530.9" cy="301.8" rx="1.1" ry="0.7" fill="#ffe9a0"/>
<ellipse cx="520.7" cy="302.9" rx="3.5" ry="2.8" fill="url(#gd)"/><ellipse cx="519.9" cy="301.8" rx="1.1" ry="0.7" fill="#ffe9a0"/>
<ellipse cx="509.8" cy="302.9" rx="3.5" ry="2.8" fill="url(#gd)"/><ellipse cx="509.0" cy="301.8" rx="1.1" ry="0.7" fill="#ffe9a0"/>
<ellipse cx="498.8" cy="302.9" rx="3.5" ry="2.8" fill="url(#gd)"/><ellipse cx="498.0" cy="301.8" rx="1.1" ry="0.7" fill="#ffe9a0"/>
<ellipse cx="487.8" cy="302.9" rx="3.5" ry="2.8" fill="url(#gd)"/><ellipse cx="487.0" cy="301.8" rx="1.1" ry="0.7" fill="#ffe9a0"/>
<ellipse cx="476.9" cy="302.9" rx="3.5" ry="2.8" fill="url(#gd)"/><ellipse cx="476.1" cy="301.8" rx="1.1" ry="0.7" fill="#ffe9a0"/>
<ellipse cx="465.9" cy="302.9" rx="3.5" ry="2.8" fill="url(#gd)"/><ellipse cx="465.1" cy="301.8" rx="1.1" ry="0.7" fill="#ffe9a0"/>
<ellipse cx="454.9" cy="302.9" rx="3.5" ry="2.8" fill="url(#gd)"/><ellipse cx="454.1" cy="301.8" rx="1.1" ry="0.7" fill="#ffe9a0"/>
<ellipse cx="443.9" cy="302.9" rx="3.5" ry="2.8" fill="url(#gd)"/><ellipse cx="443.1" cy="301.8" rx="1.1" ry="0.7" fill="#ffe9a0"/>
<ellipse cx="433.0" cy="302.9" rx="3.5" ry="2.8" fill="url(#gd)"/><ellipse cx="432.2" cy="301.8" rx="1.1" ry="0.7" fill="#ffe9a0"/>
<ellipse cx="422.0" cy="302.9" rx="3.5" ry="2.8" fill="url(#gd)"/><ellipse cx="421.2" cy="301.8" rx="1.1" ry="0.7" fill="#ffe9a0"/>
<ellipse cx="411.0" cy="302.9" rx="3.5" ry="2.8" fill="url(#gd)"/><ellipse cx="410.2" cy="301.8" rx="1.1" ry="0.7" fill="#ffe9a0"/>
<ellipse cx="400.1" cy="302.9" rx="3.5" ry="2.8" fill="url(#gd)"/><ellipse cx="399.3" cy="301.8" rx="1.1" ry="0.7" fill="#ffe9a0"/>
<ellipse cx="389.1" cy="302.9" rx="3.5" ry="2.8" fill="url(#gd)"/><ellipse cx="388.3" cy="301.8" rx="1.1" ry="0.7" fill="#ffe9a0"/>
<ellipse cx="378.1" cy="302.9" rx="3.5" ry="2.8" fill="url(#gd)"/><ellipse cx="377.3" cy="301.8" rx="1.1" ry="0.7" fill="#ffe9a0"/>
<ellipse cx="367.2" cy="302.9" rx="3.5" ry="2.8" fill="url(#gd)"/><ellipse cx="366.4" cy="301.8" rx="1.1" ry="0.7" fill="#ffe9a0"/>
<ellipse cx="356.2" cy="302.9" rx="3.5" ry="2.8" fill="url(#gd)"/><ellipse cx="355.4" cy="301.8" rx="1.1" ry="0.7" fill="#ffe9a0"/>
<ellipse cx="345.2" cy="302.9" rx="3.5" ry="2.8" fill="url(#gd)"/><ellipse cx="344.4" cy="301.8" rx="1.1" ry="0.7" fill="#ffe9a0"/>
<ellipse cx="334.2" cy="302.9" rx="3.5" ry="2.8" fill="url(#gd)"/><ellipse cx="333.4" cy="301.8" rx="1.1" ry="0.7" fill="#ffe9a0"/>
<ellipse cx="323.3" cy="302.9" rx="3.5" ry="2.8" fill="url(#gd)"/><ellipse cx="322.5" cy="301.8" rx="1.1" ry="0.7" fill="#ffe9a0"/>
<ellipse cx="420.6" cy="483.8" rx="3.4" ry="2.9" fill="#2f5597"/>
<ellipse cx="420.6" cy="492.7" rx="3.4" ry="2.9" fill="#2f5597"/>
<ellipse cx="420.6" cy="502.6" rx="3.4" ry="2.9" fill="#2f5597"/>
<ellipse cx="420.6" cy="512.2" rx="3.4" ry="2.9" fill="#2f5597"/>
<ellipse cx="420.6" cy="521.7" rx="3.4" ry="2.9" fill="#2f5597"/>
<ellipse cx="441.5" cy="492.7" rx="3.4" ry="2.9" fill="#2f5597"/>
<ellipse cx="441.5" cy="502.6" rx="3.4" ry="2.9" fill="#2f5597"/>
<ellipse cx="441.5" cy="512.2" rx="3.4" ry="2.9" fill="#2f5597"/>
<ellipse cx="441.5" cy="521.7" rx="3.4" ry="2.9" fill="#2f5597"/>
<ellipse cx="447.7" cy="484.2" rx="3.4" ry="2.9" fill="#cc0099"/>
<ellipse cx="450.6" cy="492.7" rx="3.4" ry="2.9" fill="#00b0f0"/>
<ellipse cx="459.1" cy="492.7" rx="3.4" ry="2.9" fill="#00b0f0"/>
<ellipse cx="433.5" cy="502.4" rx="3.4" ry="2.9" fill="#00b0f0"/>
<ellipse cx="486.0" cy="483.8" rx="3.4" ry="2.9" fill="#00b0f0"/>
<ellipse cx="486.0" cy="492.7" rx="3.4" ry="2.9" fill="#2f5597"/>
<ellipse cx="486.0" cy="502.6" rx="3.4" ry="2.9" fill="#2f5597"/>
<ellipse cx="486.0" cy="512.2" rx="3.4" ry="2.9" fill="#2f5597"/>
<ellipse cx="486.0" cy="521.7" rx="3.4" ry="2.9" fill="#2f5597"/>
<ellipse cx="469.5" cy="502.6" rx="3.4" ry="2.9" fill="#2f5597"/>
<ellipse cx="477.7" cy="502.6" rx="3.4" ry="2.9" fill="#2f5597"/>
<ellipse cx="508.0" cy="483.8" rx="3.4" ry="2.9" fill="#00b0f0"/>
<ellipse cx="508.0" cy="492.7" rx="3.4" ry="2.9" fill="#00b0f0"/>
<ellipse cx="508.0" cy="502.6" rx="3.4" ry="2.9" fill="#00b0f0"/>
<ellipse cx="508.0" cy="512.2" rx="3.4" ry="2.9" fill="#00b0f0"/>
<ellipse cx="508.0" cy="521.7" rx="3.4" ry="2.9" fill="#00b0f0"/>
<ellipse cx="517.5" cy="502.6" rx="3.4" ry="2.9" fill="#00b0f0"/>
<ellipse cx="526.8" cy="502.6" rx="3.4" ry="2.9" fill="#00b0f0"/>
<ellipse cx="535.9" cy="502.6" rx="3.4" ry="2.9" fill="#00b0f0"/>
<ellipse cx="517.5" cy="521.7" rx="3.4" ry="2.9" fill="#00b0f0"/>
<ellipse cx="420.6" cy="529.7" rx="3.4" ry="2.9" fill="#a9d18e"/>
<ellipse cx="441.5" cy="529.7" rx="3.4" ry="2.9" fill="#a9d18e"/>
<ellipse cx="463.8" cy="529.7" rx="3.4" ry="2.9" fill="#a9d18e"/>
<ellipse cx="486.0" cy="529.7" rx="3.4" ry="2.9" fill="#a9d18e"/>
<ellipse cx="508.0" cy="529.7" rx="3.4" ry="2.9" fill="#a9d18e"/>
<ellipse cx="408.8" cy="540.1" rx="3.4" ry="2.9" fill="#a9d18e"/>
<ellipse cx="432.5" cy="540.1" rx="3.4" ry="2.9" fill="#a9d18e"/>
<ellipse cx="454.3" cy="540.1" rx="3.4" ry="2.9" fill="#a9d18e"/>
<ellipse cx="476.5" cy="540.1" rx="3.4" ry="2.9" fill="#a9d18e"/>
<ellipse cx="498.5" cy="540.1" rx="3.4" ry="2.9" fill="#a9d18e"/>
<ellipse cx="518.8" cy="540.1" rx="3.4" ry="2.9" fill="#a9d18e"/>
<ellipse cx="519.0" cy="547.6" rx="3.4" ry="2.9" fill="#00b0f0"/>
<ellipse cx="519.0" cy="557.3" rx="3.4" ry="2.9" fill="#00b0f0"/>
<ellipse cx="519.0" cy="567.2" rx="3.4" ry="2.9" fill="#00b0f0"/>
<ellipse cx="519.0" cy="576.3" rx="3.4" ry="2.9" fill="#00b0f0"/>
<ellipse cx="519.0" cy="585.8" rx="3.4" ry="2.9" fill="#00b0f0"/>
<ellipse cx="509.9" cy="557.7" rx="3.4" ry="2.9" fill="#cc0099"/>
<ellipse cx="546.5" cy="535" rx="3.5" ry="2.8" fill="url(#gd)"/><ellipse cx="545.7" cy="533.9" rx="1.1" ry="0.7" fill="#ffe9a0"/>
<ellipse cx="535.5" cy="535" rx="3.5" ry="2.8" fill="url(#gd)"/><ellipse cx="534.8" cy="533.9" rx="1.1" ry="0.7" fill="#ffe9a0"/>
<ellipse cx="524.6" cy="535" rx="3.5" ry="2.8" fill="url(#gd)"/><ellipse cx="523.8" cy="533.9" rx="1.1" ry="0.7" fill="#ffe9a0"/>
<ellipse cx="513.6" cy="535" rx="3.5" ry="2.8" fill="url(#gd)"/><ellipse cx="512.9" cy="533.9" rx="1.1" ry="0.7" fill="#ffe9a0"/>
<ellipse cx="502.7" cy="535" rx="3.5" ry="2.8" fill="url(#gd)"/><ellipse cx="501.9" cy="533.9" rx="1.1" ry="0.7" fill="#ffe9a0"/>
<ellipse cx="491.8" cy="535" rx="3.5" ry="2.8" fill="url(#gd)"/><ellipse cx="490.9" cy="533.9" rx="1.1" ry="0.7" fill="#ffe9a0"/>
<ellipse cx="480.8" cy="535" rx="3.5" ry="2.8" fill="url(#gd)"/><ellipse cx="480.0" cy="533.9" rx="1.1" ry="0.7" fill="#ffe9a0"/>
<ellipse cx="469.9" cy="535" rx="3.5" ry="2.8" fill="url(#gd)"/><ellipse cx="469.1" cy="533.9" rx="1.1" ry="0.7" fill="#ffe9a0"/>
<ellipse cx="458.9" cy="535" rx="3.5" ry="2.8" fill="url(#gd)"/><ellipse cx="458.1" cy="533.9" rx="1.1" ry="0.7" fill="#ffe9a0"/>
<ellipse cx="447.9" cy="535" rx="3.5" ry="2.8" fill="url(#gd)"/><ellipse cx="447.1" cy="533.9" rx="1.1" ry="0.7" fill="#ffe9a0"/>
<ellipse cx="437.0" cy="535" rx="3.5" ry="2.8" fill="url(#gd)"/><ellipse cx="436.2" cy="533.9" rx="1.1" ry="0.7" fill="#ffe9a0"/>
<ellipse cx="426.1" cy="535" rx="3.5" ry="2.8" fill="url(#gd)"/><ellipse cx="425.2" cy="533.9" rx="1.1" ry="0.7" fill="#ffe9a0"/>
<ellipse cx="415.1" cy="535" rx="3.5" ry="2.8" fill="url(#gd)"/><ellipse cx="414.3" cy="533.9" rx="1.1" ry="0.7" fill="#ffe9a0"/>
<ellipse cx="404.1" cy="535" rx="3.5" ry="2.8" fill="url(#gd)"/><ellipse cx="403.3" cy="533.9" rx="1.1" ry="0.7" fill="#ffe9a0"/>
<ellipse cx="393.2" cy="535" rx="3.5" ry="2.8" fill="url(#gd)"/><ellipse cx="392.4" cy="533.9" rx="1.1" ry="0.7" fill="#ffe9a0"/>
<ellipse cx="382.2" cy="535" rx="3.5" ry="2.8" fill="url(#gd)"/><ellipse cx="381.4" cy="533.9" rx="1.1" ry="0.7" fill="#ffe9a0"/>
<ellipse cx="371.3" cy="535" rx="3.5" ry="2.8" fill="url(#gd)"/><ellipse cx="370.5" cy="533.9" rx="1.1" ry="0.7" fill="#ffe9a0"/>
<ellipse cx="360.4" cy="535" rx="3.5" ry="2.8" fill="url(#gd)"/><ellipse cx="359.6" cy="533.9" rx="1.1" ry="0.7" fill="#ffe9a0"/>
<ellipse cx="349.4" cy="535" rx="3.5" ry="2.8" fill="url(#gd)"/><ellipse cx="348.6" cy="533.9" rx="1.1" ry="0.7" fill="#ffe9a0"/>
<ellipse cx="338.5" cy="535" rx="3.5" ry="2.8" fill="url(#gd)"/><ellipse cx="337.7" cy="533.9" rx="1.1" ry="0.7" fill="#ffe9a0"/>
<ellipse cx="327.5" cy="535" rx="3.5" ry="2.8" fill="url(#gd)"/><ellipse cx="326.7" cy="533.9" rx="1.1" ry="0.7" fill="#ffe9a0"/>
<line x1="471" y1="336.5" x2="471.6" y2="370" stroke="#000" stroke-width="1.3" marker-end="url(#ah)"/>
<line x1="471.6" y1="485.6" x2="470.6" y2="457.5" stroke="#000" stroke-width="1.3" marker-end="url(#ah)"/>
<text x="448.23" y="387.6" textLength="58.57" lengthAdjust="spacingAndGlyphs" style="font-family:'Liberation Serif',serif;font-size:16.7px;font-weight:bold;" >51.23%</text>
<text x="446.29" y="450.1" textLength="57.47" lengthAdjust="spacingAndGlyphs" style="font-family:'Liberation Serif',serif;font-size:16.7px;font-weight:bold;" >47.67%</text>
<rect x="406.3" y="394.5" width="136.3" height="27.4" fill="#fff" stroke="#ed7d31" stroke-width="1.3"/>
<text x="418.19" y="417.5" textLength="112.81" lengthAdjust="spacingAndGlyphs" style="font-family:'Liberation Serif',serif;font-size:25px;font-weight:bold;" >Abundant</text>
<g transform="translate(165,255) scale(0.11637)" fill="none" stroke="#8ccf4a" stroke-width="19" stroke-linecap="round" stroke-linejoin="round">
<path d="M170,178 C195,160 220,175 240,215 C265,270 300,300 298,350 C296,420 240,450 235,520 C232,590 250,640 295,665"/>
<path d="M340,160 C370,145 395,160 412,200 C435,255 472,290 470,340 C466,410 408,440 405,510 C402,580 420,635 470,655"/>
<path d="M520,140 C550,128 575,145 592,185 C615,240 657,275 655,325 C650,395 592,420 590,490 C588,560 605,615 655,635"/>
<path d="M140,298 C300,290 500,280 720,262"/>
<path d="M195,478 C350,462 550,450 745,435"/>
<path d="M140,270 L165,255 L185,280 L210,250 L235,272 L262,240 L280,262"/>
<path d="M300,215 L325,200 L345,225 L372,198 L392,232 L415,262 L440,240"/>
<path d="M470,215 L500,195 L520,225 L548,190 L570,240 L600,225 L620,250"/>
<path d="M640,200 L670,170 L730,158 M665,180 L675,215"/>
<path d="M95,525 L130,508 L160,530 L175,555 L200,520 L228,505"/>
<path d="M275,510 L320,495 L345,520 L320,560 L345,580 L290,600 L300,625 L265,620"/>
<path d="M450,490 L500,470 L530,500 L560,470 L585,500"/>
<path d="M690,540 L650,575 L670,590 L630,600 L640,622"/>
<path d="M480,580 L450,605 L470,620 L440,635"/>
<path d="M300,330 L315,380 L345,392 L368,360 L372,310"/>
<path d="M480,375 L520,355 L545,372 M520,430 L500,455 M575,415 L600,440"/>
<path d="M660,360 L700,330 L725,355 M640,440 L740,430"/>
<g stroke="#ed7d31" stroke-width="19"><path d="M375,372 L395,384 L408,378"/><path d="M530,398 L552,408 L572,400"/><path d="M690,402 L712,414 L730,408"/><path d="M475,530 L505,545 L478,560 L505,575"/></g>
</g>
<g transform="translate(165.8,490.3) scale(0.11637)" fill="none" stroke="#8ccf4a" stroke-width="19" stroke-linecap="round" stroke-linejoin="round">
<path d="M170,178 C195,160 220,175 240,215 C265,270 300,300 298,350 C296,420 240,450 235,520 C232,590 250,640 295,665"/>
<path d="M340,160 C370,145 395,160 412,200 C435,255 472,290 470,340 C466,410 408,440 405,510 C402,580 420,635 470,655"/>
<path d="M520,140 C550,128 575,145 592,185 C615,240 657,275 655,325 C650,395 592,420 590,490 C588,560 605,615 655,635"/>
<path d="M140,298 C300,290 500,280 720,262"/>
<path d="M195,478 C350,462 550,450 745,435"/>
<path d="M140,270 L165,255 L185,280 L210,250 L235,272 L262,240 L280,262"/>
<path d="M300,215 L325,200 L345,225 L372,198 L392,232 L415,262 L440,240"/>
<path d="M470,215 L500,195 L520,225 L548,190 L570,240 L600,225 L620,250"/>
<path d="M640,200 L670,170 L730,158 M665,180 L675,215"/>
<path d="M95,525 L130,508 L160,530 L175,555 L200,520 L228,505"/>
<path d="M275,510 L320,495 L345,520 L320,560 L345,580 L290,600 L300,625 L265,620"/>
<path d="M450,490 L500,470 L530,500 L560,470 L585,500"/>
<path d="M690,540 L650,575 L670,590 L630,600 L640,622"/>
<path d="M480,580 L450,605 L470,620 L440,635"/>
<path d="M300,330 L315,380 L345,392 L368,360 L372,310"/>
<path d="M480,375 L520,355 L545,372 M520,430 L500,455 M575,415 L600,440"/>
<path d="M660,360 L700,330 L725,355 M640,440 L740,430"/>
<g stroke="#ed7d31" stroke-width="19"><path d="M375,372 L395,384 L408,378"/><path d="M530,398 L552,408 L572,400"/><path d="M690,402 L712,414 L730,408"/><path d="M475,530 L505,545 L478,560 L505,575"/></g>
</g>
<path d="M279.3,281 L252,303.2 L286.8,318.2" fill="none" stroke="#000" stroke-width="1.5"/>
<path d="M280.5,516.8 L252.8,537.8 L288.5,553.5" fill="none" stroke="#000" stroke-width="1.5"/>
<text x="197.19" y="362.9" textLength="45.73" lengthAdjust="spacingAndGlyphs" style="font-family:'Liberation Serif',serif;font-size:24px;font-weight:bold;" >RPA</text>
<text x="192.05" y="603.2" textLength="48.65" lengthAdjust="spacingAndGlyphs" style="font-family:'Liberation Serif',serif;font-size:24px;font-weight:bold;" >RPC</text>
<path d="M549.9,251.7 L1175.3,253.7" stroke="#000" stroke-width="1.9" fill="none"/>
<path d="M550,494.6 L1175.3,494.9" stroke="#000" stroke-width="2.2" fill="none"/>
<path d="M1174.8,253.7 L1174.8,495" stroke="#000" stroke-width="1.5" stroke-dasharray="6.5 4.5" fill="none"/>
<text x="673.10" y="279.9" textLength="323.51" lengthAdjust="spacingAndGlyphs" style="font-family:'Liberation Serif',serif;font-size:21.2px;font-weight:bold;" >Excellent emulsifying properties</text>
<text x="681.20" y="485.2" textLength="367.50" lengthAdjust="spacingAndGlyphs" style="font-family:'Liberation Serif',serif;font-size:21.2px;font-weight:bold;" >Potential to form self-gelling systems</text>
<rect x="672" y="342.4" width="350.4" height="69.5" fill="#fff" stroke="#ed7d31" stroke-width="1.2"/>
<text x="713.39" y="370.4" textLength="266.01" lengthAdjust="spacingAndGlyphs" style="font-family:'Liberation Serif',serif;font-size:25px;font-weight:bold;" >Natural emulsifiers and</text>
<text x="741.69" y="401.3" textLength="210.51" lengthAdjust="spacingAndGlyphs" style="font-family:'Liberation Serif',serif;font-size:25px;font-weight:bold;" >rheology modifiers</text>
<path d="M550,365.7 L633.7,365.7 L633.7,359 L647.6,372.9 L633.7,386.7 L633.7,380.1 L550,380.1 z" fill="#fff" stroke="#5b9bd5" stroke-width="1.2" stroke-linejoin="miter"/>
<line x1="551.5" y1="495" x2="591.9" y2="527" stroke="#000" stroke-width="1.5" marker-end="url(#ah)"/>
<clipPath id="gc"><rect x="600.8" y="521.5" width="156.8" height="155.4"/></clipPath>
<g clip-path="url(#gc)"><g transform="translate(590,510) scale(0.24018)" fill="none" stroke-width="13.5" stroke-linecap="round" stroke-linejoin="round">
<g stroke="#5b9bd5">
<path d="M50,135 C110,118 180,120 230,150 C260,165 275,180 282,187 C320,235 360,290 385,330 C395,370 360,420 385,440 C430,455 480,420 520,415 C570,420 600,440 600,480 C580,510 540,500 540,530 C545,570 560,600 520,615"/>
<path d="M190,48 C235,80 250,110 230,150 C200,180 175,195 185,235 C195,275 215,300 223,318 C245,360 262,400 268,432 C260,470 235,495 218,522 C200,570 200,630 222,695"/>
<path d="M50,225 C130,250 230,275 330,285 C390,285 430,255 459,228 C500,180 570,120 620,48"/>
<path d="M500,48 C480,100 485,150 500,180 C490,205 475,215 459,228 C455,300 470,380 480,420"/>
<path d="M459,228 C510,250 550,280 548,330 C545,370 525,395 520,415"/>
<path d="M548,275 C590,295 650,290 700,285"/>
<path d="M645,197 C670,185 690,185 700,187"/>
<path d="M645,197 C650,280 645,380 640,440 C640,480 620,500 600,495 C590,515 585,535 582,551"/>
<path d="M268,432 C300,470 330,495 370,490 C420,480 450,440 520,415"/>
<path d="M218,522 C240,480 270,455 300,470"/>
<path d="M50,560 C90,600 150,630 210,630 C250,620 255,570 240,540"/>
<path d="M285,695 C310,670 340,640 372,620 C410,600 440,590 468,575 C485,620 490,660 500,695"/>
<path d="M582,551 C620,575 660,590 695,612"/>
<path d="M468,575 C490,540 510,500 545,480 C570,470 590,480 600,480"/>
</g><g stroke="#ed7d31">
<path d="M430,48 C370,70 310,120 282,187 C262,235 240,270 232,310 C225,350 150,362 50,322"/>
<path d="M305,48 C320,110 360,190 459,228 C520,225 580,210 645,197 C680,215 690,280 697,350"/>
<path d="M50,410 C130,405 210,410 268,432 C300,470 320,540 345,580 C370,560 400,545 430,555 C445,565 455,570 468,575 C500,600 530,605 545,580 C555,565 570,555 582,551 C620,545 660,545 697,545"/>
<path d="M60,522 C120,518 170,518 218,522 C250,560 300,600 345,585"/>
<path d="M372,620 C400,605 420,620 425,650 C428,670 428,685 430,695"/>
</g>
<circle cx="282" cy="187" r="24" fill="#70ad47" stroke="#548235" stroke-width="5"/>
<circle cx="459" cy="228" r="24" fill="#70ad47" stroke="#548235" stroke-width="5"/>
<circle cx="645" cy="197" r="24" fill="#70ad47" stroke="#548235" stroke-width="5"/>
<circle cx="223" cy="318" r="24" fill="#a6a6a6" stroke="#548235" stroke-width="5"/>
<circle cx="268" cy="432" r="24" fill="#70ad47" stroke="#548235" stroke-width="5"/>
<circle cx="218" cy="522" r="24" fill="#70ad47" stroke="#548235" stroke-width="5"/>
<circle cx="372" cy="620" r="24" fill="#70ad47" stroke="#548235" stroke-width="5"/>
<circle cx="468" cy="575" r="24" fill="#70ad47" stroke="#548235" stroke-width="5"/>
<circle cx="582" cy="551" r="24" fill="#70ad47" stroke="#548235" stroke-width="5"/>
</g></g>
<rect x="600.8" y="521.5" width="156.8" height="155.4" fill="none" stroke="#000" stroke-width="3.3" stroke-dasharray="9.8 4.4"/>
<path d="M785.8,600 L733.9,644.3 L797,686.4" fill="none" stroke="#000" stroke-width="1.3"/>
<text x="593.39" y="711.0" textLength="171.12" lengthAdjust="spacingAndGlyphs" style="font-family:'Liberation Serif',serif;font-size:20px;font-weight:bold;" >Self-gelling systems</text>
<rect x="865.6" y="512.1" width="301.3" height="243.6" fill="#fff" stroke="#111" stroke-width="1.2"/>
<line x1="865.6" y1="581.3" x2="1166.9" y2="581.3" stroke="#333" stroke-width="1" stroke-dasharray="1.2 3.2"/>
<line x1="865.6" y1="755.7" x2="865.6" y2="759" stroke="#222" stroke-width="0.9"/>
<line x1="964.9" y1="755.7" x2="964.9" y2="759" stroke="#222" stroke-width="0.9"/>
<line x1="1064.2" y1="755.7" x2="1064.2" y2="759" stroke="#222" stroke-width="0.9"/>
<line x1="1163.5" y1="755.7" x2="1163.5" y2="759" stroke="#222" stroke-width="0.9"/>
<line x1="862.3" y1="581.3" x2="865.6" y2="581.3" stroke="#222" stroke-width="0.9"/>
<line x1="862.3" y1="755.7" x2="865.6" y2="755.7" stroke="#222" stroke-width="0.9"/>
<rect x="863.2" y="655.8" width="4.8" height="4.8" fill="#404040"/>
<rect x="873.1" y="653.3" width="4.8" height="4.8" fill="#404040"/>
<rect x="883.0" y="648.1" width="4.8" height="4.8" fill="#404040"/>
<rect x="893.0" y="646.3" width="4.8" height="4.8" fill="#404040"/>
<rect x="902.9" y="645.2" width="4.8" height="4.8" fill="#404040"/>
<rect x="912.8" y="648.1" width="4.8" height="4.8" fill="#404040"/>
<rect x="922.8" y="656.9" width="4.8" height="4.8" fill="#404040"/>
<rect x="932.7" y="656.9" width="4.8" height="4.8" fill="#404040"/>
<rect x="942.6" y="652.1" width="4.8" height="4.8" fill="#404040"/>
<rect x="952.6" y="642.9" width="4.8" height="4.8" fill="#404040"/>
<rect x="962.5" y="636.7" width="4.8" height="4.8" fill="#404040"/>
<rect x="972.5" y="630.8" width="4.8" height="4.8" fill="#404040"/>
<rect x="982.4" y="626.4" width="4.8" height="4.8" fill="#404040"/>
<rect x="992.3" y="622.3" width="4.8" height="4.8" fill="#404040"/>
<rect x="1002.3" y="619.0" width="4.8" height="4.8" fill="#404040"/>
<rect x="1012.2" y="615.4" width="4.8" height="4.8" fill="#404040"/>
<rect x="1022.1" y="612.0" width="4.8" height="4.8" fill="#404040"/>
<rect x="1032.1" y="609.1" width="4.8" height="4.8" fill="#404040"/>
<rect x="1042.0" y="606.5" width="4.8" height="4.8" fill="#404040"/>
<rect x="1051.9" y="604.3" width="4.8" height="4.8" fill="#404040"/>
<rect x="1061.9" y="601.7" width="4.8" height="4.8" fill="#404040"/>
<rect x="1071.8" y="599.5" width="4.8" height="4.8" fill="#404040"/>
<rect x="1081.7" y="597.7" width="4.8" height="4.8" fill="#404040"/>
<rect x="1091.7" y="596.2" width="4.8" height="4.8" fill="#404040"/>
<rect x="1101.6" y="595.5" width="4.8" height="4.8" fill="#404040"/>
<rect x="1111.5" y="594.0" width="4.8" height="4.8" fill="#404040"/>
<rect x="1121.5" y="592.9" width="4.8" height="4.8" fill="#404040"/>
<rect x="1131.4" y="592.9" width="4.8" height="4.8" fill="#404040"/>
<rect x="1141.4" y="592.5" width="4.8" height="4.8" fill="#404040"/>
<rect x="1151.3" y="592.2" width="4.8" height="4.8" fill="#404040"/>
<rect x="1161.2" y="592.2" width="4.8" height="4.8" fill="#404040"/>
<circle cx="865.6" cy="580.2" r="2.9" fill="#ea3a44"/>
<circle cx="875.5" cy="577.6" r="2.9" fill="#ea3a44"/>
<circle cx="885.4" cy="589.4" r="2.9" fill="#ea3a44"/>
<circle cx="895.4" cy="578.7" r="2.9" fill="#ea3a44"/>
<circle cx="905.3" cy="571.0" r="2.9" fill="#ea3a44"/>
<circle cx="915.2" cy="560.7" r="2.9" fill="#ea3a44"/>
<circle cx="925.2" cy="560.0" r="2.9" fill="#ea3a44"/>
<circle cx="935.1" cy="555.9" r="2.9" fill="#ea3a44"/>
<circle cx="945.0" cy="549.3" r="2.9" fill="#ea3a44"/>
<circle cx="955.0" cy="546.4" r="2.9" fill="#ea3a44"/>
<circle cx="964.9" cy="539.7" r="2.9" fill="#ea3a44"/>
<circle cx="974.9" cy="536.8" r="2.9" fill="#ea3a44"/>
<circle cx="984.8" cy="536.1" r="2.9" fill="#ea3a44"/>
<circle cx="994.7" cy="535.0" r="2.9" fill="#ea3a44"/>
<circle cx="1004.7" cy="530.5" r="2.9" fill="#ea3a44"/>
<circle cx="1014.6" cy="532.0" r="2.9" fill="#ea3a44"/>
<circle cx="1024.5" cy="534.6" r="2.9" fill="#ea3a44"/>
<circle cx="1034.5" cy="535.0" r="2.9" fill="#ea3a44"/>
<circle cx="1044.4" cy="534.2" r="2.9" fill="#ea3a44"/>
<circle cx="1054.3" cy="537.9" r="2.9" fill="#ea3a44"/>
<circle cx="1064.3" cy="539.7" r="2.9" fill="#ea3a44"/>
<circle cx="1074.2" cy="543.1" r="2.9" fill="#ea3a44"/>
<circle cx="1084.1" cy="545.3" r="2.9" fill="#ea3a44"/>
<circle cx="1094.1" cy="547.8" r="2.9" fill="#ea3a44"/>
<circle cx="1104.0" cy="551.1" r="2.9" fill="#ea3a44"/>
<circle cx="1113.9" cy="554.1" r="2.9" fill="#ea3a44"/>
<circle cx="1123.9" cy="555.9" r="2.9" fill="#ea3a44"/>
<circle cx="1133.8" cy="557.8" r="2.9" fill="#ea3a44"/>
<circle cx="1143.8" cy="556.7" r="2.9" fill="#ea3a44"/>
<circle cx="1153.7" cy="559.2" r="2.9" fill="#ea3a44"/>
<circle cx="1163.6" cy="557.4" r="2.9" fill="#ea3a44"/>
<g style="font-family:'Liberation Serif',serif;font-size:10px;font-weight:bold" fill="#000" text-anchor="middle">
<text x="865.2" y="771.6">0.1</text>
<text x="964.9" y="771.6">1</text>
<text x="1064" y="771.6">10</text>
<text x="1164" y="771.6">100</text>
<text x="860" y="584.5" text-anchor="end">1</text><text x="860" y="759" text-anchor="end">0.1</text>
</g>
<text x="983.7" y="787" textLength="55.2" lengthAdjust="spacingAndGlyphs" style="font-family:'Liberation Serif',serif;font-size:12px;font-weight:bold">ω (rad s<tspan dy="-4" font-size="8">-1</tspan><tspan dy="4">)</tspan></text>
<text transform="translate(843.2,716.4) rotate(-90)" textLength="166.7" lengthAdjust="spacingAndGlyphs" style="font-family:'Liberation Serif',serif;font-size:12px;font-weight:bold">Damping factor (tan δ, G''/G')</text>
<rect x="1092.2" y="645.3" width="70" height="30.6" fill="#fff" stroke="#c8c8c8" stroke-width="0.8"/>
<rect x="1102" y="651" width="4.8" height="4.8" fill="#404040"/><circle cx="1104.4" cy="668.5" r="2.9" fill="#ea3a44"/>
<g style="font-family:'Liberation Serif',serif;font-size:10.5px;font-weight:bold" fill="#000"><text x="1117.3" y="657.1" textLength="42.3" lengthAdjust="spacingAndGlyphs">RPC 4%</text><text x="1117.3" y="672.2" textLength="42.3" lengthAdjust="spacingAndGlyphs">RPA 4%</text></g>
</svg>
</body></html>
